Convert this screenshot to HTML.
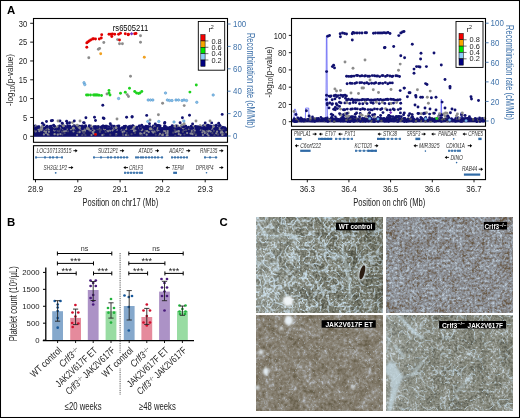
<!DOCTYPE html>
<html><head><meta charset="utf-8"><style>
html,body{margin:0;padding:0;background:#fff;}
svg{display:block;will-change:transform;}
text{font-family:"Liberation Sans",sans-serif;}
</style></head><body>
<svg width="520" height="418" viewBox="0 0 520 418" font-family="Liberation Sans">
<rect width="520" height="418" fill="#fff"/>
<g>
<rect x="34.00" y="127.50" width="193.00" height="9.30" fill="#12126a"/>
<circle cx="97.0" cy="128.7" r="1.1" fill="#44446e"/>
<circle cx="48.9" cy="131.8" r="1.1" fill="#8a8a92"/>
<circle cx="46.1" cy="131.6" r="1.1" fill="#8a8a92"/>
<circle cx="118.0" cy="128.1" r="1.1" fill="#8a8a92"/>
<circle cx="116.3" cy="134.1" r="1.1" fill="#8a8a92"/>
<circle cx="77.8" cy="132.5" r="1.1" fill="#44446e"/>
<circle cx="145.5" cy="130.7" r="1.1" fill="#44446e"/>
<circle cx="43.9" cy="134.4" r="1.1" fill="#8a8a92"/>
<circle cx="62.6" cy="128.4" r="1.1" fill="#8a8a92"/>
<circle cx="191.3" cy="128.9" r="1.1" fill="#44446e"/>
<circle cx="157.4" cy="130.5" r="1.1" fill="#8a8a92"/>
<circle cx="47.0" cy="128.0" r="1.1" fill="#8a8a92"/>
<circle cx="165.3" cy="130.9" r="1.1" fill="#8a8a92"/>
<circle cx="147.1" cy="131.1" r="1.1" fill="#8a8a92"/>
<circle cx="187.1" cy="133.1" r="1.1" fill="#8a8a92"/>
<circle cx="145.0" cy="131.7" r="1.1" fill="#44446e"/>
<circle cx="174.7" cy="129.8" r="1.1" fill="#44446e"/>
<circle cx="57.6" cy="130.8" r="1.1" fill="#44446e"/>
<circle cx="64.1" cy="131.4" r="1.1" fill="#8a8a92"/>
<circle cx="163.0" cy="133.6" r="1.1" fill="#44446e"/>
<circle cx="202.7" cy="130.0" r="1.1" fill="#44446e"/>
<circle cx="148.8" cy="132.1" r="1.1" fill="#8a8a92"/>
<circle cx="195.9" cy="135.1" r="1.1" fill="#8a8a92"/>
<circle cx="162.2" cy="128.0" r="1.1" fill="#44446e"/>
<circle cx="158.9" cy="135.4" r="1.1" fill="#44446e"/>
<circle cx="89.5" cy="130.6" r="1.1" fill="#44446e"/>
<circle cx="39.3" cy="131.2" r="1.1" fill="#8a8a92"/>
<circle cx="57.4" cy="128.0" r="1.1" fill="#44446e"/>
<circle cx="59.8" cy="129.5" r="1.1" fill="#8a8a92"/>
<circle cx="201.9" cy="128.1" r="1.1" fill="#8a8a92"/>
<circle cx="140.2" cy="134.6" r="1.1" fill="#44446e"/>
<circle cx="200.5" cy="129.7" r="1.1" fill="#8a8a92"/>
<circle cx="103.7" cy="134.6" r="1.1" fill="#44446e"/>
<circle cx="63.9" cy="128.9" r="1.1" fill="#8a8a92"/>
<circle cx="79.7" cy="131.4" r="1.1" fill="#44446e"/>
<circle cx="85.3" cy="127.5" r="1.1" fill="#8a8a92"/>
<circle cx="105.7" cy="132.0" r="1.1" fill="#44446e"/>
<circle cx="167.2" cy="131.6" r="1.1" fill="#44446e"/>
<circle cx="164.5" cy="127.9" r="1.1" fill="#44446e"/>
<circle cx="184.4" cy="134.5" r="1.1" fill="#44446e"/>
<circle cx="110.1" cy="130.7" r="1.1" fill="#8a8a92"/>
<circle cx="156.5" cy="128.0" r="1.1" fill="#8a8a92"/>
<circle cx="75.0" cy="128.8" r="1.1" fill="#8a8a92"/>
<circle cx="45.1" cy="127.5" r="1.1" fill="#8a8a92"/>
<circle cx="54.4" cy="130.4" r="1.1" fill="#8a8a92"/>
<circle cx="202.4" cy="132.4" r="1.1" fill="#8a8a92"/>
<circle cx="83.3" cy="130.3" r="1.1" fill="#8a8a92"/>
<circle cx="58.5" cy="134.3" r="1.1" fill="#44446e"/>
<circle cx="124.2" cy="131.4" r="1.1" fill="#8a8a92"/>
<circle cx="54.6" cy="130.2" r="1.1" fill="#8a8a92"/>
<circle cx="193.7" cy="128.8" r="1.1" fill="#8a8a92"/>
<circle cx="217.1" cy="131.7" r="1.1" fill="#8a8a92"/>
<circle cx="139.0" cy="127.7" r="1.1" fill="#8a8a92"/>
<circle cx="222.4" cy="134.4" r="1.1" fill="#44446e"/>
<circle cx="85.0" cy="130.4" r="1.1" fill="#8a8a92"/>
<circle cx="182.8" cy="131.8" r="1.1" fill="#44446e"/>
<circle cx="98.1" cy="129.3" r="1.1" fill="#44446e"/>
<circle cx="223.6" cy="134.3" r="1.1" fill="#44446e"/>
<circle cx="191.7" cy="133.4" r="1.1" fill="#8a8a92"/>
<circle cx="134.1" cy="130.3" r="1.1" fill="#8a8a92"/>
<circle cx="40.3" cy="129.7" r="1.1" fill="#8a8a92"/>
<circle cx="167.6" cy="135.2" r="1.1" fill="#8a8a92"/>
<circle cx="214.4" cy="135.4" r="1.1" fill="#44446e"/>
<circle cx="104.8" cy="129.3" r="1.1" fill="#8a8a92"/>
<circle cx="72.7" cy="129.1" r="1.1" fill="#44446e"/>
<circle cx="207.4" cy="134.2" r="1.1" fill="#8a8a92"/>
<circle cx="160.0" cy="133.9" r="1.1" fill="#8a8a92"/>
<circle cx="161.5" cy="134.8" r="1.1" fill="#44446e"/>
<circle cx="178.7" cy="131.3" r="1.1" fill="#8a8a92"/>
<circle cx="186.1" cy="130.2" r="1.1" fill="#44446e"/>
<circle cx="221.1" cy="130.7" r="1.1" fill="#8a8a92"/>
<circle cx="216.3" cy="133.3" r="1.1" fill="#8a8a92"/>
<circle cx="59.3" cy="128.7" r="1.1" fill="#44446e"/>
<circle cx="189.4" cy="128.7" r="1.1" fill="#44446e"/>
<circle cx="222.7" cy="132.8" r="1.1" fill="#8a8a92"/>
<circle cx="140.1" cy="128.5" r="1.1" fill="#8a8a92"/>
<circle cx="220.9" cy="132.7" r="1.1" fill="#8a8a92"/>
<circle cx="213.8" cy="131.0" r="1.1" fill="#44446e"/>
<circle cx="193.2" cy="129.2" r="1.1" fill="#8a8a92"/>
<circle cx="91.1" cy="129.4" r="1.1" fill="#44446e"/>
<circle cx="84.7" cy="130.9" r="1.1" fill="#8a8a92"/>
<circle cx="209.3" cy="130.3" r="1.1" fill="#8a8a92"/>
<circle cx="146.7" cy="134.7" r="1.1" fill="#8a8a92"/>
<circle cx="210.7" cy="131.5" r="1.1" fill="#8a8a92"/>
<circle cx="135.3" cy="127.6" r="1.1" fill="#8a8a92"/>
<circle cx="70.1" cy="127.5" r="1.1" fill="#44446e"/>
<circle cx="68.0" cy="131.3" r="1.1" fill="#44446e"/>
<circle cx="141.6" cy="130.1" r="1.1" fill="#8a8a92"/>
<circle cx="141.4" cy="133.8" r="1.1" fill="#8a8a92"/>
<circle cx="142.3" cy="129.5" r="1.1" fill="#8a8a92"/>
<circle cx="182.9" cy="131.6" r="1.1" fill="#44446e"/>
<circle cx="180.5" cy="134.8" r="1.1" fill="#8a8a92"/>
<circle cx="152.3" cy="131.5" r="1.1" fill="#8a8a92"/>
<circle cx="167.7" cy="131.1" r="1.1" fill="#8a8a92"/>
<circle cx="126.5" cy="135.0" r="1.1" fill="#44446e"/>
<circle cx="202.9" cy="135.0" r="1.1" fill="#8a8a92"/>
<circle cx="142.1" cy="135.0" r="1.1" fill="#44446e"/>
<circle cx="61.3" cy="128.5" r="1.1" fill="#8a8a92"/>
<circle cx="48.9" cy="129.4" r="1.1" fill="#8a8a92"/>
<circle cx="163.2" cy="133.8" r="1.1" fill="#44446e"/>
<circle cx="64.6" cy="133.2" r="1.1" fill="#44446e"/>
<circle cx="62.4" cy="134.6" r="1.1" fill="#44446e"/>
<circle cx="77.1" cy="135.1" r="1.1" fill="#8a8a92"/>
<circle cx="128.3" cy="135.4" r="1.1" fill="#44446e"/>
<circle cx="65.9" cy="131.0" r="1.1" fill="#8a8a92"/>
<circle cx="99.9" cy="129.1" r="1.1" fill="#8a8a92"/>
<circle cx="173.3" cy="127.7" r="1.1" fill="#44446e"/>
<circle cx="119.3" cy="127.6" r="1.1" fill="#8a8a92"/>
<circle cx="154.5" cy="131.6" r="1.1" fill="#8a8a92"/>
<circle cx="223.6" cy="133.8" r="1.1" fill="#44446e"/>
<circle cx="55.1" cy="129.6" r="1.1" fill="#8a8a92"/>
<circle cx="184.2" cy="129.7" r="1.1" fill="#8a8a92"/>
<circle cx="115.9" cy="134.8" r="1.1" fill="#44446e"/>
<circle cx="84.5" cy="128.7" r="1.1" fill="#44446e"/>
<circle cx="144.3" cy="133.1" r="1.1" fill="#8a8a92"/>
<circle cx="46.0" cy="133.0" r="1.1" fill="#8a8a92"/>
<circle cx="48.9" cy="135.0" r="1.1" fill="#44446e"/>
<circle cx="188.5" cy="128.2" r="1.1" fill="#44446e"/>
<circle cx="47.8" cy="134.4" r="1.1" fill="#8a8a92"/>
<circle cx="99.9" cy="131.9" r="1.1" fill="#44446e"/>
<circle cx="86.3" cy="128.5" r="1.1" fill="#8a8a92"/>
<circle cx="80.7" cy="128.4" r="1.1" fill="#8a8a92"/>
<circle cx="44.6" cy="129.1" r="1.1" fill="#8a8a92"/>
<circle cx="93.4" cy="133.6" r="1.1" fill="#8a8a92"/>
<circle cx="130.8" cy="128.9" r="1.1" fill="#8a8a92"/>
<circle cx="38.5" cy="129.5" r="1.1" fill="#8a8a92"/>
<circle cx="175.4" cy="131.9" r="1.1" fill="#8a8a92"/>
<circle cx="125.9" cy="135.0" r="1.1" fill="#8a8a92"/>
<circle cx="191.8" cy="131.0" r="1.1" fill="#8a8a92"/>
<circle cx="194.8" cy="130.6" r="1.1" fill="#8a8a92"/>
<circle cx="166.7" cy="135.4" r="1.1" fill="#8a8a92"/>
<circle cx="194.4" cy="133.2" r="1.1" fill="#44446e"/>
<circle cx="112.5" cy="130.3" r="1.1" fill="#8a8a92"/>
<circle cx="59.9" cy="128.1" r="1.1" fill="#44446e"/>
<circle cx="83.9" cy="128.8" r="1.1" fill="#8a8a92"/>
<circle cx="196.1" cy="134.5" r="1.1" fill="#44446e"/>
<circle cx="89.0" cy="129.4" r="1.1" fill="#8a8a92"/>
<circle cx="123.0" cy="128.8" r="1.1" fill="#8a8a92"/>
<circle cx="85.4" cy="135.2" r="1.1" fill="#44446e"/>
<circle cx="139.8" cy="129.5" r="1.1" fill="#44446e"/>
<circle cx="94.3" cy="130.4" r="1.1" fill="#8a8a92"/>
<circle cx="108.1" cy="131.3" r="1.1" fill="#8a8a92"/>
<circle cx="73.5" cy="131.5" r="1.1" fill="#8a8a92"/>
<circle cx="85.6" cy="128.2" r="1.1" fill="#8a8a92"/>
<circle cx="43.0" cy="127.7" r="1.1" fill="#8a8a92"/>
<circle cx="79.6" cy="132.2" r="1.1" fill="#8a8a92"/>
<circle cx="178.7" cy="132.8" r="1.1" fill="#44446e"/>
<circle cx="203.3" cy="130.6" r="1.1" fill="#8a8a92"/>
<circle cx="223.6" cy="128.7" r="1.1" fill="#44446e"/>
<circle cx="158.2" cy="127.9" r="1.1" fill="#44446e"/>
<circle cx="205.8" cy="132.5" r="1.1" fill="#44446e"/>
<circle cx="190.5" cy="128.6" r="1.1" fill="#8a8a92"/>
<circle cx="131.6" cy="134.2" r="1.1" fill="#44446e"/>
<circle cx="193.3" cy="132.2" r="1.1" fill="#44446e"/>
<circle cx="165.8" cy="133.0" r="1.1" fill="#8a8a92"/>
<circle cx="41.0" cy="128.6" r="1.1" fill="#8a8a92"/>
<circle cx="55.1" cy="134.2" r="1.1" fill="#44446e"/>
<circle cx="155.2" cy="132.5" r="1.1" fill="#44446e"/>
<circle cx="128.7" cy="127.5" r="1.1" fill="#44446e"/>
<circle cx="178.3" cy="131.5" r="1.1" fill="#8a8a92"/>
<circle cx="161.3" cy="128.0" r="1.1" fill="#44446e"/>
<circle cx="83.3" cy="128.1" r="1.1" fill="#8a8a92"/>
<circle cx="174.7" cy="129.1" r="1.1" fill="#44446e"/>
<circle cx="221.9" cy="131.5" r="1.1" fill="#8a8a92"/>
<circle cx="126.7" cy="133.0" r="1.1" fill="#44446e"/>
<circle cx="153.2" cy="132.6" r="1.1" fill="#8a8a92"/>
<circle cx="63.2" cy="129.5" r="1.1" fill="#44446e"/>
<circle cx="93.3" cy="132.0" r="1.1" fill="#8a8a92"/>
<circle cx="46.6" cy="129.7" r="1.1" fill="#44446e"/>
<circle cx="167.6" cy="132.9" r="1.1" fill="#8a8a92"/>
<circle cx="133.9" cy="131.2" r="1.1" fill="#8a8a92"/>
<circle cx="57.7" cy="134.6" r="1.1" fill="#8a8a92"/>
<circle cx="222.3" cy="135.0" r="1.1" fill="#8a8a92"/>
<circle cx="122.9" cy="134.1" r="1.1" fill="#44446e"/>
<circle cx="121.1" cy="129.6" r="1.1" fill="#8a8a92"/>
<circle cx="216.1" cy="129.2" r="1.1" fill="#44446e"/>
<circle cx="62.1" cy="131.7" r="1.1" fill="#44446e"/>
<circle cx="60.4" cy="134.1" r="1.1" fill="#8a8a92"/>
<circle cx="204.8" cy="133.1" r="1.1" fill="#8a8a92"/>
<circle cx="206.9" cy="131.4" r="1.1" fill="#8a8a92"/>
<circle cx="35.7" cy="131.4" r="1.1" fill="#8a8a92"/>
<circle cx="92.8" cy="128.6" r="1.1" fill="#8a8a92"/>
<circle cx="95.5" cy="134.2" r="1.1" fill="#8a8a92"/>
<circle cx="178.8" cy="134.2" r="1.1" fill="#8a8a92"/>
<circle cx="212.4" cy="133.2" r="1.1" fill="#44446e"/>
<circle cx="90.5" cy="130.5" r="1.1" fill="#8a8a92"/>
<circle cx="226.3" cy="132.2" r="1.1" fill="#8a8a92"/>
<circle cx="117.0" cy="129.7" r="1.1" fill="#8a8a92"/>
<circle cx="54.5" cy="134.2" r="1.1" fill="#8a8a92"/>
<circle cx="214.2" cy="129.5" r="1.1" fill="#8a8a92"/>
<circle cx="132.8" cy="129.0" r="1.1" fill="#8a8a92"/>
<circle cx="218.1" cy="134.6" r="1.1" fill="#44446e"/>
<circle cx="155.8" cy="134.8" r="1.1" fill="#44446e"/>
<circle cx="140.2" cy="133.3" r="1.1" fill="#8a8a92"/>
<circle cx="175.2" cy="131.1" r="1.1" fill="#44446e"/>
<circle cx="158.4" cy="129.8" r="1.1" fill="#8a8a92"/>
<circle cx="212.5" cy="128.5" r="1.1" fill="#8a8a92"/>
<circle cx="100.8" cy="129.9" r="1.1" fill="#44446e"/>
<circle cx="222.0" cy="129.6" r="1.1" fill="#44446e"/>
<circle cx="92.6" cy="132.0" r="1.1" fill="#8a8a92"/>
<circle cx="67.0" cy="128.8" r="1.1" fill="#8a8a92"/>
<circle cx="208.5" cy="131.5" r="1.1" fill="#8a8a92"/>
<circle cx="208.5" cy="135.5" r="1.1" fill="#8a8a92"/>
<circle cx="61.7" cy="129.0" r="1.1" fill="#8a8a92"/>
<circle cx="100.5" cy="128.2" r="1.1" fill="#8a8a92"/>
<circle cx="84.5" cy="132.1" r="1.1" fill="#44446e"/>
<circle cx="178.6" cy="130.8" r="1.1" fill="#8a8a92"/>
<circle cx="135.4" cy="130.5" r="1.1" fill="#8a8a92"/>
<circle cx="46.9" cy="129.7" r="1.1" fill="#44446e"/>
<circle cx="59.1" cy="131.5" r="1.1" fill="#44446e"/>
<circle cx="200.2" cy="129.2" r="1.1" fill="#8a8a92"/>
<circle cx="82.6" cy="130.7" r="1.1" fill="#8a8a92"/>
<circle cx="217.7" cy="134.3" r="1.1" fill="#44446e"/>
<circle cx="39.2" cy="127.8" r="1.1" fill="#44446e"/>
<circle cx="206.5" cy="131.3" r="1.1" fill="#44446e"/>
<circle cx="35.0" cy="130.6" r="1.1" fill="#44446e"/>
<circle cx="193.1" cy="134.3" r="1.1" fill="#44446e"/>
<circle cx="82.6" cy="128.4" r="1.1" fill="#8a8a92"/>
<circle cx="135.0" cy="133.0" r="1.1" fill="#44446e"/>
<circle cx="173.2" cy="132.7" r="1.1" fill="#44446e"/>
<circle cx="122.6" cy="131.9" r="1.1" fill="#8a8a92"/>
<circle cx="184.8" cy="129.4" r="1.1" fill="#44446e"/>
<circle cx="158.6" cy="129.9" r="1.1" fill="#8a8a92"/>
<circle cx="83.2" cy="132.6" r="1.1" fill="#44446e"/>
<circle cx="56.5" cy="128.1" r="1.1" fill="#8a8a92"/>
<circle cx="146.6" cy="130.6" r="1.1" fill="#8a8a92"/>
<circle cx="150.1" cy="127.6" r="1.1" fill="#8a8a92"/>
<circle cx="123.2" cy="135.2" r="1.1" fill="#44446e"/>
<circle cx="204.2" cy="131.3" r="1.1" fill="#8a8a92"/>
<circle cx="82.3" cy="135.2" r="1.1" fill="#44446e"/>
<circle cx="93.9" cy="127.7" r="1.1" fill="#8a8a92"/>
<circle cx="164.2" cy="130.9" r="1.1" fill="#8a8a92"/>
<circle cx="162.8" cy="134.9" r="1.1" fill="#8a8a92"/>
<circle cx="41.5" cy="130.2" r="1.1" fill="#8a8a92"/>
<circle cx="165.7" cy="129.1" r="1.1" fill="#44446e"/>
<circle cx="176.5" cy="131.5" r="1.1" fill="#8a8a92"/>
<circle cx="220.7" cy="130.0" r="1.1" fill="#44446e"/>
<circle cx="79.2" cy="129.3" r="1.1" fill="#44446e"/>
<circle cx="91.5" cy="135.1" r="1.1" fill="#8a8a92"/>
<circle cx="70.9" cy="129.3" r="1.1" fill="#8a8a92"/>
<circle cx="162.4" cy="135.1" r="1.1" fill="#8a8a92"/>
<circle cx="110.3" cy="129.2" r="1.1" fill="#44446e"/>
<circle cx="62.2" cy="127.9" r="1.1" fill="#8a8a92"/>
<circle cx="110.3" cy="134.7" r="1.1" fill="#44446e"/>
<circle cx="175.3" cy="135.5" r="1.1" fill="#44446e"/>
<circle cx="98.0" cy="129.0" r="1.1" fill="#44446e"/>
<circle cx="177.9" cy="127.8" r="1.1" fill="#44446e"/>
<circle cx="107.5" cy="130.5" r="1.1" fill="#8a8a92"/>
<circle cx="67.4" cy="127.5" r="1.1" fill="#8a8a92"/>
<circle cx="102.3" cy="135.1" r="1.1" fill="#8a8a92"/>
<circle cx="219.7" cy="129.2" r="1.1" fill="#8a8a92"/>
<circle cx="192.3" cy="134.1" r="1.1" fill="#8a8a92"/>
<circle cx="44.4" cy="131.3" r="1.1" fill="#8a8a92"/>
<circle cx="211.1" cy="129.0" r="1.1" fill="#8a8a92"/>
<circle cx="206.8" cy="127.7" r="1.1" fill="#8a8a92"/>
<circle cx="190.5" cy="133.6" r="1.1" fill="#8a8a92"/>
<circle cx="41.7" cy="128.0" r="1.1" fill="#44446e"/>
<circle cx="84.2" cy="133.5" r="1.1" fill="#44446e"/>
<circle cx="99.9" cy="129.7" r="1.1" fill="#44446e"/>
<circle cx="153.2" cy="129.6" r="1.1" fill="#44446e"/>
<circle cx="95.6" cy="126.7" r="1.45" fill="#111170"/>
<circle cx="179.7" cy="128.7" r="1.45" fill="#111170"/>
<circle cx="215.6" cy="125.9" r="1.45" fill="#111170"/>
<circle cx="126.0" cy="128.9" r="1.45" fill="#8c8c8c"/>
<circle cx="109.0" cy="126.6" r="1.45" fill="#111170"/>
<circle cx="129.5" cy="128.8" r="1.45" fill="#111170"/>
<circle cx="188.7" cy="128.2" r="1.45" fill="#8c8c8c"/>
<circle cx="183.0" cy="127.7" r="1.45" fill="#111170"/>
<circle cx="96.2" cy="127.0" r="1.45" fill="#111170"/>
<circle cx="50.1" cy="126.4" r="1.45" fill="#111170"/>
<circle cx="82.4" cy="126.0" r="1.45" fill="#111170"/>
<circle cx="140.8" cy="126.8" r="1.45" fill="#8c8c8c"/>
<circle cx="204.2" cy="129.0" r="1.45" fill="#111170"/>
<circle cx="51.1" cy="126.1" r="1.45" fill="#111170"/>
<circle cx="170.9" cy="127.2" r="1.45" fill="#111170"/>
<circle cx="114.8" cy="127.8" r="1.45" fill="#111170"/>
<circle cx="178.2" cy="128.5" r="1.45" fill="#111170"/>
<circle cx="58.2" cy="128.5" r="1.45" fill="#111170"/>
<circle cx="143.6" cy="127.0" r="1.45" fill="#111170"/>
<circle cx="73.1" cy="126.6" r="1.45" fill="#111170"/>
<circle cx="64.4" cy="128.6" r="1.45" fill="#111170"/>
<circle cx="97.5" cy="127.1" r="1.45" fill="#8c8c8c"/>
<circle cx="132.2" cy="126.5" r="1.45" fill="#8c8c8c"/>
<circle cx="160.1" cy="129.0" r="1.45" fill="#111170"/>
<circle cx="125.9" cy="128.4" r="1.45" fill="#8c8c8c"/>
<circle cx="210.1" cy="125.9" r="1.45" fill="#111170"/>
<circle cx="57.8" cy="126.4" r="1.45" fill="#8c8c8c"/>
<circle cx="146.7" cy="128.8" r="1.45" fill="#111170"/>
<circle cx="200.9" cy="127.2" r="1.45" fill="#111170"/>
<circle cx="183.9" cy="128.8" r="1.45" fill="#111170"/>
<circle cx="149.2" cy="127.8" r="1.45" fill="#111170"/>
<circle cx="105.6" cy="126.3" r="1.45" fill="#111170"/>
<circle cx="83.8" cy="127.7" r="1.45" fill="#111170"/>
<circle cx="74.0" cy="125.8" r="1.45" fill="#111170"/>
<circle cx="164.9" cy="126.4" r="1.45" fill="#111170"/>
<circle cx="74.0" cy="128.3" r="1.45" fill="#111170"/>
<circle cx="47.1" cy="126.1" r="1.45" fill="#111170"/>
<circle cx="140.4" cy="127.8" r="1.45" fill="#111170"/>
<circle cx="66.3" cy="128.0" r="1.45" fill="#111170"/>
<circle cx="89.3" cy="126.8" r="1.45" fill="#8c8c8c"/>
<circle cx="94.8" cy="127.6" r="1.45" fill="#111170"/>
<circle cx="114.7" cy="128.6" r="1.45" fill="#8c8c8c"/>
<circle cx="104.7" cy="126.4" r="1.45" fill="#111170"/>
<circle cx="74.0" cy="125.8" r="1.45" fill="#8c8c8c"/>
<circle cx="116.1" cy="128.4" r="1.45" fill="#111170"/>
<circle cx="204.1" cy="127.3" r="1.45" fill="#111170"/>
<circle cx="37.8" cy="127.6" r="1.45" fill="#111170"/>
<circle cx="209.2" cy="126.1" r="1.45" fill="#111170"/>
<circle cx="106.0" cy="127.4" r="1.45" fill="#111170"/>
<circle cx="89.3" cy="127.5" r="1.45" fill="#8c8c8c"/>
<circle cx="55.8" cy="127.4" r="1.45" fill="#8c8c8c"/>
<circle cx="220.2" cy="126.4" r="1.45" fill="#111170"/>
<circle cx="215.6" cy="128.9" r="1.45" fill="#111170"/>
<circle cx="45.2" cy="128.8" r="1.45" fill="#111170"/>
<circle cx="208.2" cy="127.8" r="1.45" fill="#8c8c8c"/>
<circle cx="65.7" cy="128.3" r="1.45" fill="#111170"/>
<circle cx="112.5" cy="128.5" r="1.45" fill="#8c8c8c"/>
<circle cx="70.0" cy="126.5" r="1.45" fill="#111170"/>
<circle cx="134.2" cy="127.0" r="1.45" fill="#111170"/>
<circle cx="82.3" cy="128.1" r="1.45" fill="#8c8c8c"/>
<circle cx="42.9" cy="127.6" r="1.45" fill="#111170"/>
<circle cx="42.3" cy="128.5" r="1.45" fill="#111170"/>
<circle cx="149.8" cy="127.6" r="1.45" fill="#111170"/>
<circle cx="93.6" cy="127.1" r="1.45" fill="#111170"/>
<circle cx="116.5" cy="127.9" r="1.45" fill="#111170"/>
<circle cx="118.9" cy="125.9" r="1.45" fill="#111170"/>
<circle cx="128.7" cy="126.6" r="1.45" fill="#111170"/>
<circle cx="184.4" cy="127.3" r="1.45" fill="#111170"/>
<circle cx="125.6" cy="126.1" r="1.45" fill="#111170"/>
<circle cx="117.5" cy="126.1" r="1.45" fill="#111170"/>
<circle cx="132.7" cy="125.9" r="1.45" fill="#111170"/>
<circle cx="50.7" cy="128.1" r="1.45" fill="#111170"/>
<circle cx="132.9" cy="126.0" r="1.45" fill="#111170"/>
<circle cx="107.4" cy="128.8" r="1.45" fill="#111170"/>
<circle cx="199.1" cy="129.0" r="1.45" fill="#111170"/>
<circle cx="191.1" cy="126.4" r="1.45" fill="#8c8c8c"/>
<circle cx="129.2" cy="128.9" r="1.45" fill="#8c8c8c"/>
<circle cx="66.6" cy="128.3" r="1.45" fill="#8c8c8c"/>
<circle cx="47.5" cy="126.9" r="1.45" fill="#111170"/>
<circle cx="65.4" cy="128.7" r="1.45" fill="#111170"/>
<circle cx="191.2" cy="126.3" r="1.45" fill="#111170"/>
<circle cx="211.2" cy="126.5" r="1.45" fill="#111170"/>
<circle cx="131.9" cy="126.8" r="1.45" fill="#111170"/>
<circle cx="69.9" cy="126.3" r="1.45" fill="#8c8c8c"/>
<circle cx="165.2" cy="128.7" r="1.45" fill="#111170"/>
<circle cx="185.3" cy="126.2" r="1.45" fill="#111170"/>
<circle cx="156.9" cy="127.0" r="1.45" fill="#8c8c8c"/>
<circle cx="141.3" cy="127.7" r="1.45" fill="#8c8c8c"/>
<circle cx="55.0" cy="129.0" r="1.45" fill="#111170"/>
<circle cx="110.5" cy="128.4" r="1.45" fill="#111170"/>
<circle cx="224.7" cy="127.6" r="1.45" fill="#111170"/>
<circle cx="181.4" cy="127.2" r="1.45" fill="#111170"/>
<circle cx="177.4" cy="126.0" r="1.45" fill="#8c8c8c"/>
<circle cx="83.6" cy="127.8" r="1.45" fill="#8c8c8c"/>
<circle cx="147.2" cy="127.9" r="1.45" fill="#111170"/>
<circle cx="35.3" cy="125.9" r="1.45" fill="#111170"/>
<circle cx="153.0" cy="127.2" r="1.45" fill="#111170"/>
<circle cx="206.5" cy="126.2" r="1.45" fill="#111170"/>
<circle cx="160.1" cy="125.9" r="1.45" fill="#111170"/>
<circle cx="103.0" cy="126.1" r="1.45" fill="#111170"/>
<circle cx="77.9" cy="127.7" r="1.45" fill="#111170"/>
<circle cx="74.1" cy="127.8" r="1.45" fill="#111170"/>
<circle cx="60.8" cy="128.8" r="1.45" fill="#111170"/>
<circle cx="63.6" cy="126.1" r="1.45" fill="#111170"/>
<circle cx="201.9" cy="128.3" r="1.45" fill="#111170"/>
<circle cx="85.6" cy="125.8" r="1.45" fill="#111170"/>
<circle cx="142.7" cy="126.9" r="1.45" fill="#111170"/>
<circle cx="120.0" cy="128.8" r="1.45" fill="#111170"/>
<circle cx="82.6" cy="128.7" r="1.45" fill="#111170"/>
<circle cx="136.8" cy="127.1" r="1.45" fill="#111170"/>
<circle cx="46.2" cy="128.3" r="1.45" fill="#111170"/>
<circle cx="140.5" cy="128.8" r="1.45" fill="#111170"/>
<circle cx="73.2" cy="127.7" r="1.45" fill="#111170"/>
<circle cx="157.9" cy="128.4" r="1.45" fill="#111170"/>
<circle cx="94.2" cy="126.8" r="1.45" fill="#111170"/>
<circle cx="205.3" cy="128.3" r="1.45" fill="#111170"/>
<circle cx="36.2" cy="128.5" r="1.45" fill="#111170"/>
<circle cx="124.1" cy="128.2" r="1.45" fill="#111170"/>
<circle cx="78.3" cy="126.1" r="1.45" fill="#111170"/>
<circle cx="42.4" cy="126.9" r="1.45" fill="#111170"/>
<circle cx="168.1" cy="128.5" r="1.45" fill="#111170"/>
<circle cx="85.9" cy="127.6" r="1.45" fill="#111170"/>
<circle cx="186.0" cy="127.5" r="1.45" fill="#111170"/>
<circle cx="157.9" cy="128.9" r="1.45" fill="#111170"/>
<circle cx="203.5" cy="125.8" r="1.45" fill="#111170"/>
<circle cx="80.2" cy="128.2" r="1.45" fill="#8c8c8c"/>
<circle cx="177.9" cy="126.8" r="1.45" fill="#8c8c8c"/>
<circle cx="97.9" cy="126.6" r="1.45" fill="#8c8c8c"/>
<circle cx="155.8" cy="128.0" r="1.45" fill="#111170"/>
<circle cx="222.5" cy="127.3" r="1.45" fill="#8c8c8c"/>
<circle cx="168.6" cy="128.5" r="1.45" fill="#111170"/>
<circle cx="173.8" cy="127.6" r="1.45" fill="#111170"/>
<circle cx="75.6" cy="127.8" r="1.45" fill="#111170"/>
<circle cx="209.4" cy="126.3" r="1.45" fill="#111170"/>
<circle cx="55.4" cy="128.8" r="1.45" fill="#111170"/>
<circle cx="62.2" cy="125.9" r="1.45" fill="#111170"/>
<circle cx="167.6" cy="127.8" r="1.45" fill="#111170"/>
<circle cx="176.1" cy="126.0" r="1.45" fill="#111170"/>
<circle cx="104.6" cy="128.4" r="1.45" fill="#8c8c8c"/>
<circle cx="205.7" cy="126.0" r="1.45" fill="#8c8c8c"/>
<circle cx="210.1" cy="128.8" r="1.45" fill="#111170"/>
<circle cx="74.4" cy="126.2" r="1.45" fill="#111170"/>
<circle cx="197.3" cy="128.4" r="1.45" fill="#111170"/>
<circle cx="193.0" cy="127.8" r="1.45" fill="#111170"/>
<circle cx="54.1" cy="126.1" r="1.45" fill="#111170"/>
<circle cx="74.3" cy="126.8" r="1.45" fill="#111170"/>
<circle cx="39.0" cy="126.6" r="1.45" fill="#111170"/>
<circle cx="172.1" cy="127.0" r="1.45" fill="#111170"/>
<circle cx="219.6" cy="127.4" r="1.45" fill="#8c8c8c"/>
<circle cx="153.4" cy="125.9" r="1.45" fill="#111170"/>
<circle cx="118.6" cy="128.3" r="1.45" fill="#111170"/>
<circle cx="169.9" cy="127.5" r="1.45" fill="#111170"/>
<circle cx="200.1" cy="126.1" r="1.45" fill="#8c8c8c"/>
<circle cx="67.6" cy="125.8" r="1.45" fill="#111170"/>
<circle cx="181.0" cy="128.9" r="1.45" fill="#111170"/>
<circle cx="129.0" cy="127.4" r="1.45" fill="#111170"/>
<circle cx="70.3" cy="127.4" r="1.45" fill="#111170"/>
<circle cx="194.3" cy="126.6" r="1.45" fill="#8c8c8c"/>
<circle cx="89.3" cy="126.5" r="1.45" fill="#111170"/>
<circle cx="130.4" cy="126.2" r="1.45" fill="#111170"/>
<circle cx="50.5" cy="128.3" r="1.45" fill="#111170"/>
<circle cx="185.7" cy="127.8" r="1.45" fill="#111170"/>
<circle cx="111.8" cy="127.1" r="1.45" fill="#8c8c8c"/>
<circle cx="51.5" cy="128.6" r="1.45" fill="#111170"/>
<circle cx="74.5" cy="126.6" r="1.45" fill="#8c8c8c"/>
<circle cx="131.0" cy="127.0" r="1.45" fill="#8c8c8c"/>
<circle cx="79.7" cy="127.3" r="1.45" fill="#111170"/>
<circle cx="179.5" cy="128.2" r="1.45" fill="#111170"/>
<circle cx="101.7" cy="126.8" r="1.45" fill="#111170"/>
<circle cx="196.5" cy="127.9" r="1.45" fill="#111170"/>
<circle cx="67.5" cy="127.2" r="1.45" fill="#111170"/>
<circle cx="145.9" cy="126.2" r="1.45" fill="#111170"/>
<circle cx="204.5" cy="126.6" r="1.45" fill="#111170"/>
<circle cx="92.7" cy="128.1" r="1.45" fill="#8c8c8c"/>
<circle cx="64.6" cy="126.3" r="1.45" fill="#111170"/>
<circle cx="97.5" cy="127.5" r="1.45" fill="#111170"/>
<circle cx="97.8" cy="126.4" r="1.45" fill="#8c8c8c"/>
<circle cx="174.6" cy="126.1" r="1.45" fill="#8c8c8c"/>
<circle cx="54.5" cy="127.0" r="1.45" fill="#8c8c8c"/>
<circle cx="187.2" cy="128.1" r="1.45" fill="#111170"/>
<circle cx="72.6" cy="127.8" r="1.45" fill="#111170"/>
<circle cx="74.5" cy="127.0" r="1.45" fill="#111170"/>
<circle cx="111.4" cy="128.3" r="1.45" fill="#111170"/>
<circle cx="130.8" cy="127.8" r="1.45" fill="#111170"/>
<circle cx="62.2" cy="127.7" r="1.45" fill="#111170"/>
<circle cx="176.9" cy="128.7" r="1.45" fill="#111170"/>
<circle cx="144.9" cy="128.2" r="1.45" fill="#111170"/>
<circle cx="78.8" cy="128.1" r="1.45" fill="#8c8c8c"/>
<circle cx="183.2" cy="128.0" r="1.45" fill="#8c8c8c"/>
<circle cx="165.1" cy="127.9" r="1.45" fill="#111170"/>
<circle cx="94.9" cy="127.8" r="1.45" fill="#111170"/>
<circle cx="115.3" cy="128.3" r="1.45" fill="#111170"/>
<circle cx="155.6" cy="126.6" r="1.45" fill="#111170"/>
<circle cx="122.2" cy="127.8" r="1.45" fill="#111170"/>
<circle cx="164.3" cy="128.8" r="1.45" fill="#111170"/>
<circle cx="160.3" cy="128.3" r="1.45" fill="#111170"/>
<circle cx="128.8" cy="128.9" r="1.45" fill="#111170"/>
<circle cx="139.1" cy="126.3" r="1.45" fill="#111170"/>
<circle cx="215.1" cy="127.5" r="1.45" fill="#111170"/>
<circle cx="145.0" cy="127.5" r="1.45" fill="#111170"/>
<circle cx="133.1" cy="127.8" r="1.45" fill="#8c8c8c"/>
<circle cx="134.9" cy="127.1" r="1.45" fill="#8c8c8c"/>
<circle cx="75.2" cy="128.0" r="1.45" fill="#111170"/>
<circle cx="181.1" cy="126.2" r="1.45" fill="#8c8c8c"/>
<circle cx="103.1" cy="126.0" r="1.45" fill="#111170"/>
<circle cx="111.5" cy="125.8" r="1.45" fill="#111170"/>
<circle cx="115.5" cy="128.0" r="1.45" fill="#111170"/>
<circle cx="85.8" cy="126.5" r="1.45" fill="#111170"/>
<circle cx="215.0" cy="127.5" r="1.45" fill="#111170"/>
<circle cx="188.5" cy="127.1" r="1.45" fill="#111170"/>
<circle cx="59.8" cy="128.3" r="1.45" fill="#8c8c8c"/>
<circle cx="156.5" cy="127.3" r="1.45" fill="#111170"/>
<circle cx="78.3" cy="128.9" r="1.45" fill="#111170"/>
<circle cx="157.3" cy="128.4" r="1.45" fill="#8c8c8c"/>
<circle cx="124.6" cy="126.7" r="1.45" fill="#111170"/>
<circle cx="59.0" cy="128.5" r="1.45" fill="#111170"/>
<circle cx="197.9" cy="126.7" r="1.45" fill="#111170"/>
<circle cx="83.6" cy="127.2" r="1.45" fill="#111170"/>
<circle cx="35.5" cy="128.1" r="1.45" fill="#111170"/>
<circle cx="81.9" cy="126.8" r="1.45" fill="#111170"/>
<circle cx="117.1" cy="127.8" r="1.45" fill="#111170"/>
<circle cx="104.4" cy="128.8" r="1.45" fill="#8c8c8c"/>
<circle cx="45.9" cy="128.4" r="1.45" fill="#8c8c8c"/>
<circle cx="185.1" cy="126.2" r="1.45" fill="#8c8c8c"/>
<circle cx="156.3" cy="125.8" r="1.45" fill="#111170"/>
<circle cx="217.3" cy="127.9" r="1.45" fill="#111170"/>
<circle cx="54.4" cy="126.3" r="1.45" fill="#111170"/>
<circle cx="183.7" cy="126.9" r="1.45" fill="#111170"/>
<circle cx="208.1" cy="128.3" r="1.45" fill="#111170"/>
<circle cx="205.7" cy="127.7" r="1.45" fill="#111170"/>
<circle cx="163.0" cy="128.7" r="1.45" fill="#111170"/>
<circle cx="195.6" cy="126.4" r="1.45" fill="#111170"/>
<circle cx="136.6" cy="128.2" r="1.45" fill="#111170"/>
<circle cx="204.0" cy="127.6" r="1.45" fill="#111170"/>
<circle cx="79.8" cy="126.2" r="1.45" fill="#111170"/>
<circle cx="46.2" cy="127.3" r="1.45" fill="#111170"/>
<circle cx="129.1" cy="127.4" r="1.45" fill="#111170"/>
<circle cx="200.2" cy="125.8" r="1.45" fill="#8c8c8c"/>
<circle cx="124.6" cy="127.6" r="1.45" fill="#111170"/>
<circle cx="196.0" cy="127.0" r="1.45" fill="#111170"/>
<circle cx="219.0" cy="126.0" r="1.45" fill="#111170"/>
<circle cx="156.8" cy="125.9" r="1.45" fill="#111170"/>
<circle cx="165.7" cy="128.8" r="1.45" fill="#111170"/>
<circle cx="223.0" cy="127.4" r="1.45" fill="#111170"/>
<circle cx="206.9" cy="125.9" r="1.45" fill="#111170"/>
<circle cx="154.7" cy="126.9" r="1.45" fill="#8c8c8c"/>
<circle cx="105.1" cy="127.3" r="1.45" fill="#111170"/>
<circle cx="182.6" cy="126.5" r="1.45" fill="#111170"/>
<circle cx="115.9" cy="127.6" r="1.45" fill="#8c8c8c"/>
<circle cx="91.1" cy="128.4" r="1.45" fill="#111170"/>
<circle cx="131.5" cy="126.7" r="1.45" fill="#111170"/>
<circle cx="221.7" cy="127.9" r="1.45" fill="#111170"/>
<circle cx="98.4" cy="126.8" r="1.45" fill="#111170"/>
<circle cx="147.3" cy="127.8" r="1.45" fill="#111170"/>
<circle cx="42.7" cy="128.1" r="1.45" fill="#8c8c8c"/>
<circle cx="139.4" cy="126.0" r="1.45" fill="#111170"/>
<circle cx="36.2" cy="126.4" r="1.45" fill="#8c8c8c"/>
<circle cx="151.6" cy="127.9" r="1.45" fill="#111170"/>
<circle cx="209.2" cy="127.8" r="1.45" fill="#111170"/>
<circle cx="155.0" cy="128.0" r="1.45" fill="#111170"/>
<circle cx="165.4" cy="126.5" r="1.45" fill="#111170"/>
<circle cx="122.7" cy="128.2" r="1.45" fill="#111170"/>
<circle cx="69.7" cy="125.9" r="1.45" fill="#111170"/>
<circle cx="210.0" cy="127.9" r="1.45" fill="#111170"/>
<circle cx="192.5" cy="128.3" r="1.45" fill="#111170"/>
<circle cx="84.4" cy="126.8" r="1.45" fill="#111170"/>
<circle cx="96.0" cy="127.2" r="1.45" fill="#111170"/>
<circle cx="213.8" cy="126.0" r="1.45" fill="#111170"/>
<circle cx="42.5" cy="126.2" r="1.45" fill="#8c8c8c"/>
<circle cx="145.2" cy="128.7" r="1.45" fill="#111170"/>
<circle cx="37.7" cy="127.0" r="1.45" fill="#111170"/>
<circle cx="214.6" cy="128.9" r="1.45" fill="#111170"/>
<circle cx="114.0" cy="126.1" r="1.45" fill="#111170"/>
<circle cx="75.7" cy="126.3" r="1.45" fill="#111170"/>
<circle cx="35.9" cy="128.0" r="1.45" fill="#111170"/>
<circle cx="220.1" cy="126.1" r="1.45" fill="#8c8c8c"/>
<circle cx="59.7" cy="125.9" r="1.45" fill="#111170"/>
<circle cx="81.4" cy="128.1" r="1.45" fill="#111170"/>
<circle cx="44.6" cy="128.3" r="1.45" fill="#111170"/>
<circle cx="198.8" cy="128.1" r="1.45" fill="#111170"/>
<circle cx="155.4" cy="128.1" r="1.45" fill="#111170"/>
<circle cx="213.5" cy="126.6" r="1.45" fill="#8c8c8c"/>
<circle cx="172.3" cy="125.8" r="1.45" fill="#111170"/>
<circle cx="159.6" cy="128.4" r="1.45" fill="#111170"/>
<circle cx="94.6" cy="128.1" r="1.45" fill="#111170"/>
<circle cx="199.9" cy="127.4" r="1.45" fill="#111170"/>
<circle cx="105.4" cy="127.6" r="1.45" fill="#111170"/>
<circle cx="164.6" cy="126.3" r="1.45" fill="#111170"/>
<circle cx="104.6" cy="127.9" r="1.45" fill="#111170"/>
<circle cx="115.0" cy="127.0" r="1.45" fill="#111170"/>
<circle cx="216.0" cy="128.3" r="1.45" fill="#111170"/>
<circle cx="91.0" cy="126.0" r="1.45" fill="#8c8c8c"/>
<circle cx="169.7" cy="128.4" r="1.45" fill="#111170"/>
<circle cx="151.0" cy="128.9" r="1.45" fill="#8c8c8c"/>
<circle cx="150.1" cy="126.8" r="1.45" fill="#111170"/>
<circle cx="205.1" cy="127.0" r="1.45" fill="#111170"/>
<circle cx="150.2" cy="128.7" r="1.45" fill="#8c8c8c"/>
<circle cx="89.3" cy="125.8" r="1.45" fill="#111170"/>
<circle cx="115.9" cy="127.7" r="1.45" fill="#8c8c8c"/>
<circle cx="204.9" cy="125.9" r="1.45" fill="#8c8c8c"/>
<circle cx="190.5" cy="128.6" r="1.45" fill="#111170"/>
<circle cx="87.4" cy="128.5" r="1.45" fill="#8c8c8c"/>
<circle cx="166.1" cy="128.7" r="1.45" fill="#111170"/>
<circle cx="51.3" cy="127.6" r="1.45" fill="#111170"/>
<circle cx="73.4" cy="128.2" r="1.45" fill="#8c8c8c"/>
<circle cx="79.8" cy="127.7" r="1.45" fill="#111170"/>
<circle cx="124.1" cy="126.5" r="1.45" fill="#111170"/>
<circle cx="178.8" cy="128.3" r="1.45" fill="#111170"/>
<circle cx="51.8" cy="128.4" r="1.45" fill="#111170"/>
<circle cx="79.6" cy="127.7" r="1.45" fill="#8c8c8c"/>
<circle cx="204.5" cy="127.5" r="1.45" fill="#111170"/>
<circle cx="147.9" cy="126.4" r="1.45" fill="#111170"/>
<circle cx="69.6" cy="128.0" r="1.45" fill="#111170"/>
<circle cx="143.1" cy="127.1" r="1.45" fill="#111170"/>
<circle cx="63.5" cy="125.9" r="1.45" fill="#8c8c8c"/>
<circle cx="106.6" cy="126.1" r="1.45" fill="#111170"/>
<circle cx="185.8" cy="126.3" r="1.45" fill="#111170"/>
<circle cx="101.1" cy="127.5" r="1.45" fill="#111170"/>
<circle cx="41.4" cy="129.0" r="1.45" fill="#8c8c8c"/>
<circle cx="128.1" cy="127.6" r="1.45" fill="#111170"/>
<circle cx="184.2" cy="123.8" r="1.45" fill="#8c8c8c"/>
<circle cx="181.9" cy="125.0" r="1.45" fill="#8c8c8c"/>
<circle cx="83.6" cy="122.6" r="1.45" fill="#111170"/>
<circle cx="69.6" cy="122.8" r="1.45" fill="#111170"/>
<circle cx="141.7" cy="125.1" r="1.45" fill="#111170"/>
<circle cx="216.4" cy="125.2" r="1.45" fill="#111170"/>
<circle cx="149.5" cy="123.7" r="1.45" fill="#111170"/>
<circle cx="218.7" cy="123.3" r="1.45" fill="#111170"/>
<circle cx="157.7" cy="125.4" r="1.45" fill="#111170"/>
<circle cx="110.3" cy="123.8" r="1.45" fill="#111170"/>
<circle cx="219.9" cy="125.5" r="1.45" fill="#111170"/>
<circle cx="42.4" cy="123.3" r="1.45" fill="#111170"/>
<circle cx="207.9" cy="125.2" r="1.45" fill="#111170"/>
<circle cx="44.0" cy="124.9" r="1.45" fill="#111170"/>
<circle cx="158.8" cy="125.5" r="1.45" fill="#111170"/>
<circle cx="62.7" cy="124.8" r="1.45" fill="#8c8c8c"/>
<circle cx="164.6" cy="123.4" r="1.45" fill="#111170"/>
<circle cx="180.1" cy="122.8" r="1.45" fill="#111170"/>
<circle cx="84.2" cy="122.9" r="1.45" fill="#111170"/>
<circle cx="67.3" cy="123.2" r="1.45" fill="#111170"/>
<circle cx="164.8" cy="122.5" r="1.45" fill="#111170"/>
<circle cx="72.4" cy="122.6" r="1.45" fill="#8c8c8c"/>
<circle cx="77.2" cy="125.3" r="1.45" fill="#8c8c8c"/>
<circle cx="205.2" cy="122.9" r="1.45" fill="#111170"/>
<circle cx="53.6" cy="125.3" r="1.45" fill="#111170"/>
<circle cx="155.3" cy="123.9" r="1.45" fill="#111170"/>
<circle cx="192.6" cy="123.9" r="1.45" fill="#111170"/>
<circle cx="62.3" cy="123.2" r="1.45" fill="#111170"/>
<circle cx="46.5" cy="121.5" r="1.45" fill="#111170"/>
<circle cx="51.3" cy="120.8" r="1.45" fill="#111170"/>
<circle cx="52.5" cy="120.5" r="1.45" fill="#111170"/>
<circle cx="66.6" cy="121.2" r="1.45" fill="#111170"/>
<circle cx="74.3" cy="121.0" r="1.45" fill="#111170"/>
<circle cx="85.9" cy="117.7" r="1.45" fill="#111170"/>
<circle cx="94.5" cy="117.3" r="1.45" fill="#111170"/>
<circle cx="103.2" cy="118.0" r="1.45" fill="#111170"/>
<circle cx="126.6" cy="117.3" r="1.45" fill="#111170"/>
<circle cx="132.0" cy="117.0" r="1.45" fill="#111170"/>
<circle cx="102.8" cy="105.2" r="1.45" fill="#111170"/>
<circle cx="132.2" cy="116.7" r="1.45" fill="#111170"/>
<circle cx="146.7" cy="115.4" r="1.45" fill="#111170"/>
<circle cx="182.4" cy="117.7" r="1.45" fill="#111170"/>
<circle cx="189.5" cy="115.2" r="1.45" fill="#111170"/>
<circle cx="222.2" cy="114.4" r="1.45" fill="#111170"/>
<circle cx="211.7" cy="122.9" r="1.45" fill="#111170"/>
<circle cx="104.0" cy="118.5" r="1.45" fill="#111170"/>
<circle cx="95.5" cy="120.5" r="1.45" fill="#111170"/>
<circle cx="60.0" cy="121.0" r="1.45" fill="#111170"/>
<circle cx="158.4" cy="114.8" r="1.45" fill="#8c8c8c"/>
<circle cx="162.6" cy="103.3" r="1.45" fill="#8c8c8c"/>
<circle cx="184.2" cy="105.6" r="1.45" fill="#8c8c8c"/>
<circle cx="130.5" cy="76.3" r="1.45" fill="#8c8c8c"/>
<circle cx="107.0" cy="94.0" r="1.45" fill="#8c8c8c"/>
<circle cx="127.2" cy="94.6" r="1.45" fill="#8c8c8c"/>
<circle cx="128.5" cy="96.5" r="1.45" fill="#8c8c8c"/>
<circle cx="103.8" cy="42.5" r="1.45" fill="#8c8c8c"/>
<circle cx="98.4" cy="49.2" r="1.45" fill="#8c8c8c"/>
<circle cx="99.6" cy="48.4" r="1.45" fill="#8c8c8c"/>
<circle cx="88.8" cy="57.7" r="1.45" fill="#8c8c8c"/>
<circle cx="117.6" cy="39.6" r="1.45" fill="#8c8c8c"/>
<circle cx="119.5" cy="43.8" r="1.45" fill="#8c8c8c"/>
<circle cx="122.4" cy="43.8" r="1.45" fill="#8c8c8c"/>
<circle cx="140.5" cy="35.8" r="1.45" fill="#8c8c8c"/>
<circle cx="140.5" cy="42.3" r="1.45" fill="#8c8c8c"/>
<circle cx="117.0" cy="119.0" r="1.45" fill="#8c8c8c"/>
<circle cx="150.0" cy="120.0" r="1.45" fill="#8c8c8c"/>
<circle cx="196.0" cy="121.0" r="1.45" fill="#8c8c8c"/>
<circle cx="210.0" cy="121.0" r="1.45" fill="#8c8c8c"/>
<circle cx="80.0" cy="121.0" r="1.45" fill="#8c8c8c"/>
<circle cx="58.0" cy="121.0" r="1.45" fill="#8c8c8c"/>
<circle cx="84.0" cy="82.7" r="1.25" fill="#86c2ea" stroke="#4f8cc4" stroke-width="0.5"/>
<circle cx="84.8" cy="84.6" r="1.25" fill="#86c2ea" stroke="#4f8cc4" stroke-width="0.5"/>
<circle cx="118.6" cy="98.5" r="1.25" fill="#86c2ea" stroke="#4f8cc4" stroke-width="0.5"/>
<circle cx="165.5" cy="93.0" r="1.25" fill="#86c2ea" stroke="#4f8cc4" stroke-width="0.5"/>
<circle cx="213.2" cy="95.0" r="1.25" fill="#86c2ea" stroke="#4f8cc4" stroke-width="0.5"/>
<circle cx="148.2" cy="100.0" r="1.25" fill="#86c2ea" stroke="#4f8cc4" stroke-width="0.5"/>
<circle cx="150.5" cy="100.0" r="1.25" fill="#86c2ea" stroke="#4f8cc4" stroke-width="0.5"/>
<circle cx="152.8" cy="100.0" r="1.25" fill="#86c2ea" stroke="#4f8cc4" stroke-width="0.5"/>
<circle cx="167.4" cy="100.0" r="1.25" fill="#86c2ea" stroke="#4f8cc4" stroke-width="0.5"/>
<circle cx="169.5" cy="100.5" r="1.25" fill="#86c2ea" stroke="#4f8cc4" stroke-width="0.5"/>
<circle cx="172.0" cy="100.5" r="1.25" fill="#86c2ea" stroke="#4f8cc4" stroke-width="0.5"/>
<circle cx="176.0" cy="100.0" r="1.25" fill="#86c2ea" stroke="#4f8cc4" stroke-width="0.5"/>
<circle cx="178.5" cy="100.0" r="1.25" fill="#86c2ea" stroke="#4f8cc4" stroke-width="0.5"/>
<circle cx="182.0" cy="100.5" r="1.25" fill="#86c2ea" stroke="#4f8cc4" stroke-width="0.5"/>
<circle cx="184.0" cy="100.0" r="1.25" fill="#86c2ea" stroke="#4f8cc4" stroke-width="0.5"/>
<circle cx="186.5" cy="100.5" r="1.25" fill="#86c2ea" stroke="#4f8cc4" stroke-width="0.5"/>
<circle cx="196.8" cy="102.3" r="1.25" fill="#86c2ea" stroke="#4f8cc4" stroke-width="0.5"/>
<circle cx="147.8" cy="121.5" r="1.25" fill="#86c2ea" stroke="#4f8cc4" stroke-width="0.5"/>
<circle cx="158.8" cy="121.5" r="1.25" fill="#86c2ea" stroke="#4f8cc4" stroke-width="0.5"/>
<circle cx="174.0" cy="122.0" r="1.25" fill="#86c2ea" stroke="#4f8cc4" stroke-width="0.5"/>
<circle cx="183.8" cy="121.0" r="1.25" fill="#86c2ea" stroke="#4f8cc4" stroke-width="0.5"/>
<circle cx="86.5" cy="95.0" r="1.45" fill="#1ed21e"/>
<circle cx="88.0" cy="95.0" r="1.45" fill="#1ed21e"/>
<circle cx="90.5" cy="95.0" r="1.45" fill="#1ed21e"/>
<circle cx="93.5" cy="95.0" r="1.45" fill="#1ed21e"/>
<circle cx="94.5" cy="95.0" r="1.45" fill="#1ed21e"/>
<circle cx="95.5" cy="95.0" r="1.45" fill="#1ed21e"/>
<circle cx="96.5" cy="95.0" r="1.45" fill="#1ed21e"/>
<circle cx="97.5" cy="95.0" r="1.45" fill="#1ed21e"/>
<circle cx="99.0" cy="95.3" r="1.45" fill="#1ed21e"/>
<circle cx="101.5" cy="95.5" r="1.45" fill="#1ed21e"/>
<circle cx="109.0" cy="90.4" r="1.45" fill="#1ed21e"/>
<circle cx="109.0" cy="93.0" r="1.45" fill="#1ed21e"/>
<circle cx="110.0" cy="95.0" r="1.45" fill="#1ed21e"/>
<circle cx="120.5" cy="93.3" r="1.45" fill="#1ed21e"/>
<circle cx="125.3" cy="92.3" r="1.45" fill="#1ed21e"/>
<circle cx="129.5" cy="88.3" r="1.45" fill="#1ed21e"/>
<circle cx="134.7" cy="91.5" r="1.45" fill="#1ed21e"/>
<circle cx="136.5" cy="93.0" r="1.45" fill="#1ed21e"/>
<circle cx="138.5" cy="93.5" r="1.45" fill="#1ed21e"/>
<circle cx="140.0" cy="93.0" r="1.45" fill="#1ed21e"/>
<circle cx="141.8" cy="91.5" r="1.45" fill="#1ed21e"/>
<circle cx="189.9" cy="92.1" r="1.45" fill="#1ed21e"/>
<circle cx="196.3" cy="85.0" r="1.45" fill="#1ed21e"/>
<circle cx="100.7" cy="53.8" r="1.45" fill="#f0a020"/>
<circle cx="144.3" cy="57.3" r="1.45" fill="#f0a020"/>
<circle cx="86.8" cy="42.9" r="1.45" fill="#e00000"/>
<circle cx="87.8" cy="41.9" r="1.45" fill="#e00000"/>
<circle cx="89.2" cy="41.0" r="1.45" fill="#e00000"/>
<circle cx="90.7" cy="40.0" r="1.45" fill="#e00000"/>
<circle cx="92.6" cy="39.0" r="1.45" fill="#e00000"/>
<circle cx="95.5" cy="39.0" r="1.45" fill="#e00000"/>
<circle cx="99.3" cy="39.0" r="1.45" fill="#e00000"/>
<circle cx="101.3" cy="38.0" r="1.45" fill="#e00000"/>
<circle cx="101.7" cy="34.8" r="1.45" fill="#e00000"/>
<circle cx="109.0" cy="34.2" r="1.45" fill="#e00000"/>
<circle cx="110.9" cy="34.2" r="1.45" fill="#e00000"/>
<circle cx="111.8" cy="36.5" r="1.45" fill="#e00000"/>
<circle cx="114.7" cy="34.2" r="1.45" fill="#e00000"/>
<circle cx="118.6" cy="34.2" r="1.45" fill="#e00000"/>
<circle cx="120.5" cy="33.3" r="1.45" fill="#e00000"/>
<circle cx="119.5" cy="40.0" r="1.45" fill="#e00000"/>
<circle cx="125.3" cy="33.7" r="1.45" fill="#e00000"/>
<circle cx="128.2" cy="34.8" r="1.45" fill="#e00000"/>
<circle cx="86.8" cy="47.3" r="1.45" fill="#e00000"/>
<circle cx="128.4" cy="34.2" r="1.45" fill="#e00000"/>
<circle cx="134.7" cy="33.8" r="1.45" fill="#e00000"/>
<circle cx="136.0" cy="33.5" r="1.45" fill="#e00000"/>
<circle cx="93.5" cy="38.8" r="1.45" fill="#e00000"/>
<circle cx="112.5" cy="34.0" r="1.45" fill="#e00000"/>
<circle cx="95.5" cy="134.4" r="1.45" fill="#e00000"/>
<path d="M131.6 31.9 L133.4 33.7 L131.6 35.5 L129.8 33.7Z" fill="#7a2fc0"/>
</g>
<text x="112.80" y="31.20" font-size="9.6" text-anchor="start" fill="#000" textLength="35.4" lengthAdjust="spacingAndGlyphs">rs6505211</text>
<rect x="33.50" y="18.50" width="194.00" height="123.80" fill="none" stroke="#000" stroke-width="1.1"/>
<line x1="30.20" y1="136.30" x2="33.50" y2="136.30" stroke="#000" stroke-width="0.9"/>
<text x="27.10" y="139.60" font-size="9.3" text-anchor="end" fill="#222" textLength="4.2" lengthAdjust="spacingAndGlyphs">0</text>
<line x1="30.20" y1="117.47" x2="33.50" y2="117.47" stroke="#000" stroke-width="0.9"/>
<text x="27.10" y="120.77" font-size="9.3" text-anchor="end" fill="#222" textLength="4.2" lengthAdjust="spacingAndGlyphs">5</text>
<line x1="30.20" y1="98.63" x2="33.50" y2="98.63" stroke="#000" stroke-width="0.9"/>
<text x="27.10" y="101.93" font-size="9.3" text-anchor="end" fill="#222" textLength="8.4" lengthAdjust="spacingAndGlyphs">10</text>
<line x1="30.20" y1="79.80" x2="33.50" y2="79.80" stroke="#000" stroke-width="0.9"/>
<text x="27.10" y="83.10" font-size="9.3" text-anchor="end" fill="#222" textLength="8.4" lengthAdjust="spacingAndGlyphs">15</text>
<line x1="30.20" y1="60.96" x2="33.50" y2="60.96" stroke="#000" stroke-width="0.9"/>
<text x="27.10" y="64.26" font-size="9.3" text-anchor="end" fill="#222" textLength="8.4" lengthAdjust="spacingAndGlyphs">20</text>
<line x1="30.20" y1="42.13" x2="33.50" y2="42.13" stroke="#000" stroke-width="0.9"/>
<text x="27.10" y="45.43" font-size="9.3" text-anchor="end" fill="#222" textLength="8.4" lengthAdjust="spacingAndGlyphs">25</text>
<line x1="30.20" y1="23.29" x2="33.50" y2="23.29" stroke="#000" stroke-width="0.9"/>
<text x="27.10" y="26.59" font-size="9.3" text-anchor="end" fill="#222" textLength="8.4" lengthAdjust="spacingAndGlyphs">30</text>
<line x1="227.50" y1="136.00" x2="230.60" y2="136.00" stroke="#3f72aa" stroke-width="0.9"/>
<text x="233.00" y="139.20" font-size="9.2" text-anchor="start" fill="#3f72aa" textLength="4.4" lengthAdjust="spacingAndGlyphs">0</text>
<line x1="227.50" y1="113.60" x2="230.60" y2="113.60" stroke="#3f72aa" stroke-width="0.9"/>
<text x="233.00" y="116.80" font-size="9.2" text-anchor="start" fill="#3f72aa" textLength="8.8" lengthAdjust="spacingAndGlyphs">20</text>
<line x1="227.50" y1="91.20" x2="230.60" y2="91.20" stroke="#3f72aa" stroke-width="0.9"/>
<text x="233.00" y="94.40" font-size="9.2" text-anchor="start" fill="#3f72aa" textLength="8.8" lengthAdjust="spacingAndGlyphs">40</text>
<line x1="227.50" y1="68.80" x2="230.60" y2="68.80" stroke="#3f72aa" stroke-width="0.9"/>
<text x="233.00" y="72.00" font-size="9.2" text-anchor="start" fill="#3f72aa" textLength="8.8" lengthAdjust="spacingAndGlyphs">60</text>
<line x1="227.50" y1="46.40" x2="230.60" y2="46.40" stroke="#3f72aa" stroke-width="0.9"/>
<text x="233.00" y="49.60" font-size="9.2" text-anchor="start" fill="#3f72aa" textLength="8.8" lengthAdjust="spacingAndGlyphs">80</text>
<line x1="227.50" y1="24.00" x2="230.60" y2="24.00" stroke="#3f72aa" stroke-width="0.9"/>
<text x="233.00" y="27.20" font-size="9.2" text-anchor="start" fill="#3f72aa" textLength="13.200000000000001" lengthAdjust="spacingAndGlyphs">100</text>
<text transform="translate(12.8,80) rotate(-90)" font-size="9" text-anchor="middle" fill="#222" textLength="52" lengthAdjust="spacingAndGlyphs">-log<tspan font-size="6.5" dy="1.8">10</tspan><tspan dy="-1.8">(p-value)</tspan></text>
<text transform="translate(246.5,80.4) rotate(90)" font-size="10.3" text-anchor="middle" fill="#3f72aa" textLength="95" lengthAdjust="spacingAndGlyphs">Recombination rate (cM/Mb)</text>
<rect x="198.30" y="21.50" width="26.40" height="48.70" fill="#fff" stroke="#000" stroke-width="0.9"/>
<rect x="200.80" y="34.60" width="4.30" height="6.35" fill="#f40000" stroke="#000" stroke-width="0.5"/>
<rect x="200.80" y="40.95" width="4.30" height="6.35" fill="#f8a400" stroke="#000" stroke-width="0.5"/>
<rect x="200.80" y="47.30" width="4.30" height="6.35" fill="#00e600" stroke="#000" stroke-width="0.5"/>
<rect x="200.80" y="53.65" width="4.30" height="6.35" fill="#8ccdf6" stroke="#000" stroke-width="0.5"/>
<rect x="200.80" y="60.00" width="4.30" height="6.35" fill="#000080" stroke="#000" stroke-width="0.5"/>
<line x1="205.10" y1="40.95" x2="208.40" y2="40.95" stroke="#333" stroke-width="0.7"/>
<text x="211.40" y="43.55" font-size="7.5" text-anchor="start" fill="#222" textLength="10.3" lengthAdjust="spacingAndGlyphs">0.8</text>
<line x1="205.10" y1="47.30" x2="208.40" y2="47.30" stroke="#333" stroke-width="0.7"/>
<text x="211.40" y="49.90" font-size="7.5" text-anchor="start" fill="#222" textLength="10.3" lengthAdjust="spacingAndGlyphs">0.6</text>
<line x1="205.10" y1="53.65" x2="208.40" y2="53.65" stroke="#333" stroke-width="0.7"/>
<text x="211.40" y="56.25" font-size="7.5" text-anchor="start" fill="#222" textLength="10.3" lengthAdjust="spacingAndGlyphs">0.4</text>
<line x1="205.10" y1="60.00" x2="208.40" y2="60.00" stroke="#333" stroke-width="0.7"/>
<text x="211.40" y="62.60" font-size="7.5" text-anchor="start" fill="#222" textLength="10.3" lengthAdjust="spacingAndGlyphs">0.2</text>
<text x="208.40" y="31.90" font-size="7.8" text-anchor="start" fill="#222">r</text>
<text x="210.80" y="29.10" font-size="5.4" text-anchor="start" fill="#222">2</text>
<rect x="33.50" y="145.70" width="194.00" height="33.90" fill="none" stroke="#000" stroke-width="1.1"/>
<text x="36.50" y="152.90" font-size="6.6" text-anchor="start" fill="#333" textLength="35.0" lengthAdjust="spacingAndGlyphs" font-style="italic">LOC107133515</text>
<line x1="73.40" y1="150.70" x2="76.10" y2="150.70" stroke="#000" stroke-width="0.9"/>
<path d="M75.4 149.0 L77.6 150.7 L75.4 152.4Z" fill="#000"/>
<line x1="35.90" y1="157.40" x2="62.80" y2="157.40" stroke="#2f6aa6" stroke-width="0.7"/>
<rect x="35.20" y="156.30" width="1.60" height="2.20" fill="#2f6aa6"/>
<rect x="44.20" y="156.30" width="1.60" height="2.20" fill="#2f6aa6"/>
<rect x="49.20" y="156.30" width="1.60" height="2.20" fill="#2f6aa6"/>
<rect x="52.20" y="156.30" width="1.60" height="2.20" fill="#2f6aa6"/>
<rect x="56.20" y="156.30" width="1.60" height="2.20" fill="#2f6aa6"/>
<rect x="61.20" y="156.30" width="1.60" height="2.20" fill="#2f6aa6"/>
<text x="98.00" y="152.90" font-size="6.6" text-anchor="start" fill="#333" textLength="20.200000000000003" lengthAdjust="spacingAndGlyphs" font-style="italic">SUZ12P1</text>
<line x1="119.90" y1="150.70" x2="122.80" y2="150.70" stroke="#000" stroke-width="0.9"/>
<path d="M122.1 149.0 L124.3 150.7 L122.1 152.4Z" fill="#000"/>
<line x1="93.00" y1="157.40" x2="128.60" y2="157.40" stroke="#2f6aa6" stroke-width="0.7"/>
<rect x="93.20" y="156.30" width="1.60" height="2.20" fill="#2f6aa6"/>
<rect x="100.20" y="156.30" width="1.60" height="2.20" fill="#2f6aa6"/>
<rect x="107.20" y="156.30" width="1.60" height="2.20" fill="#2f6aa6"/>
<rect x="110.20" y="156.30" width="1.60" height="2.20" fill="#2f6aa6"/>
<rect x="114.20" y="156.30" width="1.60" height="2.20" fill="#2f6aa6"/>
<rect x="117.20" y="156.30" width="1.60" height="2.20" fill="#2f6aa6"/>
<rect x="120.20" y="156.30" width="1.60" height="2.20" fill="#2f6aa6"/>
<rect x="123.20" y="156.30" width="1.60" height="2.20" fill="#2f6aa6"/>
<rect x="126.20" y="156.30" width="1.60" height="2.20" fill="#2f6aa6"/>
<text x="138.60" y="152.90" font-size="6.6" text-anchor="start" fill="#333" textLength="14.0" lengthAdjust="spacingAndGlyphs" font-style="italic">ATAD5</text>
<line x1="155.30" y1="150.70" x2="157.70" y2="150.70" stroke="#000" stroke-width="0.9"/>
<path d="M157.0 149.0 L159.2 150.7 L157.0 152.4Z" fill="#000"/>
<line x1="135.30" y1="157.40" x2="163.20" y2="157.40" stroke="#2f6aa6" stroke-width="0.7"/>
<rect x="135.20" y="156.30" width="1.60" height="2.20" fill="#2f6aa6"/>
<rect x="137.20" y="156.30" width="1.60" height="2.20" fill="#2f6aa6"/>
<rect x="140.20" y="156.30" width="1.60" height="2.20" fill="#2f6aa6"/>
<rect x="142.20" y="156.30" width="1.60" height="2.20" fill="#2f6aa6"/>
<rect x="145.20" y="156.30" width="1.60" height="2.20" fill="#2f6aa6"/>
<rect x="148.20" y="156.30" width="1.60" height="2.20" fill="#2f6aa6"/>
<rect x="151.20" y="156.30" width="1.60" height="2.20" fill="#2f6aa6"/>
<rect x="154.20" y="156.30" width="1.60" height="2.20" fill="#2f6aa6"/>
<rect x="157.20" y="156.30" width="1.60" height="2.20" fill="#2f6aa6"/>
<rect x="161.20" y="156.30" width="1.60" height="2.20" fill="#2f6aa6"/>
<text x="169.30" y="152.90" font-size="6.6" text-anchor="start" fill="#333" textLength="14.5" lengthAdjust="spacingAndGlyphs" font-style="italic">ADAP2</text>
<line x1="186.30" y1="150.70" x2="189.00" y2="150.70" stroke="#000" stroke-width="0.9"/>
<path d="M188.3 149.0 L190.5 150.7 L188.3 152.4Z" fill="#000"/>
<line x1="171.30" y1="157.40" x2="187.60" y2="157.40" stroke="#2f6aa6" stroke-width="0.7"/>
<rect x="171.20" y="156.30" width="1.60" height="2.20" fill="#2f6aa6"/>
<rect x="174.20" y="156.30" width="1.60" height="2.20" fill="#2f6aa6"/>
<rect x="177.20" y="156.30" width="1.60" height="2.20" fill="#2f6aa6"/>
<rect x="180.20" y="156.30" width="1.60" height="2.20" fill="#2f6aa6"/>
<rect x="183.20" y="156.30" width="1.60" height="2.20" fill="#2f6aa6"/>
<rect x="186.20" y="156.30" width="1.60" height="2.20" fill="#2f6aa6"/>
<text x="200.10" y="152.90" font-size="6.6" text-anchor="start" fill="#333" textLength="17.30000000000001" lengthAdjust="spacingAndGlyphs" font-style="italic">RNF135</text>
<line x1="219.30" y1="150.70" x2="222.10" y2="150.70" stroke="#000" stroke-width="0.9"/>
<path d="M221.4 149.0 L223.6 150.7 L221.4 152.4Z" fill="#000"/>
<line x1="204.00" y1="157.40" x2="217.40" y2="157.40" stroke="#2f6aa6" stroke-width="0.7"/>
<rect x="204.20" y="156.30" width="1.60" height="2.20" fill="#2f6aa6"/>
<rect x="209.20" y="156.30" width="1.60" height="2.20" fill="#2f6aa6"/>
<rect x="215.20" y="156.30" width="1.60" height="2.20" fill="#2f6aa6"/>
<text x="43.60" y="169.80" font-size="6.6" text-anchor="start" fill="#333" textLength="23.6" lengthAdjust="spacingAndGlyphs" font-style="italic">SH3GL1P2</text>
<line x1="68.60" y1="167.60" x2="71.90" y2="167.60" stroke="#000" stroke-width="0.9"/>
<path d="M71.2 165.9 L73.4 167.6 L71.2 169.3Z" fill="#000"/>
<circle cx="55.7" cy="172.8" r="0.9" fill="#2f6aa6"/>
<line x1="124.90" y1="167.60" x2="128.00" y2="167.60" stroke="#000" stroke-width="0.9"/>
<path d="M125.6 165.9 L123.4 167.6 L125.6 169.3Z" fill="#000"/>
<text x="129.00" y="169.80" font-size="6.6" text-anchor="start" fill="#333" textLength="14" lengthAdjust="spacingAndGlyphs" font-style="italic">CRLF3</text>
<line x1="124.30" y1="172.80" x2="142.40" y2="172.80" stroke="#2f6aa6" stroke-width="0.7"/>
<rect x="124.20" y="171.70" width="1.60" height="2.20" fill="#2f6aa6"/>
<rect x="127.20" y="171.70" width="1.60" height="2.20" fill="#2f6aa6"/>
<rect x="130.20" y="171.70" width="1.60" height="2.20" fill="#2f6aa6"/>
<rect x="133.20" y="171.70" width="1.60" height="2.20" fill="#2f6aa6"/>
<rect x="136.20" y="171.70" width="1.60" height="2.20" fill="#2f6aa6"/>
<rect x="139.20" y="171.70" width="1.60" height="2.20" fill="#2f6aa6"/>
<rect x="141.20" y="171.70" width="1.60" height="2.20" fill="#2f6aa6"/>
<line x1="167.00" y1="167.60" x2="169.90" y2="167.60" stroke="#000" stroke-width="0.9"/>
<path d="M167.7 165.9 L165.5 167.6 L167.7 169.3Z" fill="#000"/>
<text x="171.80" y="169.80" font-size="6.6" text-anchor="start" fill="#333" textLength="12.0" lengthAdjust="spacingAndGlyphs" font-style="italic">TEFM</text>
<rect x="173.20" y="171.70" width="3.80" height="2.20" fill="#2f6aa6"/>
<text x="195.70" y="169.80" font-size="6.6" text-anchor="start" fill="#333" textLength="17.900000000000006" lengthAdjust="spacingAndGlyphs" font-style="italic">DPRXP4</text>
<line x1="219.30" y1="167.60" x2="222.10" y2="167.60" stroke="#000" stroke-width="0.9"/>
<path d="M221.4 165.9 L223.6 167.6 L221.4 169.3Z" fill="#000"/>
<circle cx="206.5" cy="172.8" r="0.8" fill="#2f6aa6"/>
<line x1="35.50" y1="179.70" x2="35.50" y2="182.30" stroke="#000" stroke-width="0.9"/>
<text x="35.50" y="192.20" font-size="8.8" text-anchor="middle" fill="#222" textLength="15.299999999999999" lengthAdjust="spacingAndGlyphs">28.9</text>
<line x1="77.80" y1="179.70" x2="77.80" y2="182.30" stroke="#000" stroke-width="0.9"/>
<text x="77.80" y="192.20" font-size="8.8" text-anchor="middle" fill="#222" textLength="8.6" lengthAdjust="spacingAndGlyphs">29</text>
<line x1="120.10" y1="179.70" x2="120.10" y2="182.30" stroke="#000" stroke-width="0.9"/>
<text x="120.10" y="192.20" font-size="8.8" text-anchor="middle" fill="#222" textLength="15.299999999999999" lengthAdjust="spacingAndGlyphs">29.1</text>
<line x1="162.60" y1="179.70" x2="162.60" y2="182.30" stroke="#000" stroke-width="0.9"/>
<text x="162.60" y="192.20" font-size="8.8" text-anchor="middle" fill="#222" textLength="15.299999999999999" lengthAdjust="spacingAndGlyphs">29.2</text>
<line x1="205.20" y1="179.70" x2="205.20" y2="182.30" stroke="#000" stroke-width="0.9"/>
<text x="205.20" y="192.20" font-size="8.8" text-anchor="middle" fill="#222" textLength="15.299999999999999" lengthAdjust="spacingAndGlyphs">29.3</text>
<text x="120.40" y="205.50" font-size="10.4" text-anchor="middle" fill="#222" textLength="75.8" lengthAdjust="spacingAndGlyphs">Position on chr17 (Mb)</text>
<path d="M292.5 121.5 L293.8 121.5 L294.5 109.2 L295.4 109.2 L296.5 113.5 L297.5 121.5 L305.3 121.5 L305.6 108.1 L308.7 108.1 L309.2 121.5 L325.9 121.5 L326.4 35.9 L326.9 35.9 L327.4 119 L440.8 119 L441.3 99.3 L441.8 119 L460.8 119 L461.2 112 L461.7 119 L485 120" fill="none" stroke="#5a5af5" stroke-width="0.85" opacity="0.9"/>
<rect x="292.30" y="118.80" width="193.00" height="3.60" fill="#10105a"/>
<circle cx="430.0" cy="120.1" r="1.3" fill="#111170"/>
<circle cx="460.2" cy="119.1" r="1.3" fill="#111170"/>
<circle cx="322.9" cy="119.1" r="1.3" fill="#55555e"/>
<circle cx="357.2" cy="118.8" r="1.3" fill="#111170"/>
<circle cx="354.1" cy="121.3" r="1.3" fill="#111170"/>
<circle cx="480.9" cy="118.4" r="1.3" fill="#55555e"/>
<circle cx="421.3" cy="118.9" r="1.3" fill="#111170"/>
<circle cx="348.0" cy="119.1" r="1.3" fill="#111170"/>
<circle cx="362.9" cy="121.6" r="1.3" fill="#55555e"/>
<circle cx="470.6" cy="118.5" r="1.3" fill="#111170"/>
<circle cx="465.1" cy="118.4" r="1.3" fill="#111170"/>
<circle cx="349.4" cy="121.5" r="1.3" fill="#111170"/>
<circle cx="447.9" cy="119.4" r="1.3" fill="#111170"/>
<circle cx="293.4" cy="121.0" r="1.3" fill="#111170"/>
<circle cx="328.7" cy="119.7" r="1.3" fill="#55555e"/>
<circle cx="334.9" cy="120.1" r="1.3" fill="#111170"/>
<circle cx="327.6" cy="120.8" r="1.3" fill="#111170"/>
<circle cx="330.8" cy="118.5" r="1.3" fill="#111170"/>
<circle cx="409.8" cy="119.9" r="1.3" fill="#111170"/>
<circle cx="332.6" cy="120.3" r="1.3" fill="#111170"/>
<circle cx="448.8" cy="120.2" r="1.3" fill="#111170"/>
<circle cx="305.6" cy="120.7" r="1.3" fill="#111170"/>
<circle cx="431.6" cy="118.4" r="1.3" fill="#55555e"/>
<circle cx="357.4" cy="121.1" r="1.3" fill="#55555e"/>
<circle cx="387.7" cy="118.3" r="1.3" fill="#55555e"/>
<circle cx="384.5" cy="121.2" r="1.3" fill="#111170"/>
<circle cx="328.7" cy="121.0" r="1.3" fill="#111170"/>
<circle cx="324.4" cy="119.5" r="1.3" fill="#111170"/>
<circle cx="293.9" cy="120.0" r="1.3" fill="#111170"/>
<circle cx="392.0" cy="118.6" r="1.3" fill="#111170"/>
<circle cx="449.8" cy="121.1" r="1.3" fill="#111170"/>
<circle cx="429.5" cy="119.5" r="1.3" fill="#111170"/>
<circle cx="304.8" cy="121.2" r="1.3" fill="#55555e"/>
<circle cx="388.0" cy="119.9" r="1.3" fill="#111170"/>
<circle cx="396.2" cy="118.3" r="1.3" fill="#55555e"/>
<circle cx="336.0" cy="118.8" r="1.3" fill="#111170"/>
<circle cx="341.1" cy="121.0" r="1.3" fill="#111170"/>
<circle cx="311.5" cy="120.6" r="1.3" fill="#111170"/>
<circle cx="296.4" cy="120.2" r="1.3" fill="#111170"/>
<circle cx="393.4" cy="120.6" r="1.3" fill="#111170"/>
<circle cx="459.9" cy="120.6" r="1.3" fill="#111170"/>
<circle cx="316.6" cy="119.9" r="1.3" fill="#111170"/>
<circle cx="346.7" cy="118.6" r="1.3" fill="#111170"/>
<circle cx="319.3" cy="120.2" r="1.3" fill="#55555e"/>
<circle cx="321.3" cy="120.1" r="1.3" fill="#111170"/>
<circle cx="324.6" cy="121.0" r="1.3" fill="#55555e"/>
<circle cx="367.6" cy="119.6" r="1.3" fill="#55555e"/>
<circle cx="393.9" cy="119.5" r="1.3" fill="#55555e"/>
<circle cx="442.2" cy="119.4" r="1.3" fill="#111170"/>
<circle cx="357.3" cy="119.7" r="1.3" fill="#55555e"/>
<circle cx="447.4" cy="121.3" r="1.3" fill="#55555e"/>
<circle cx="455.7" cy="118.4" r="1.3" fill="#111170"/>
<circle cx="476.9" cy="121.4" r="1.3" fill="#111170"/>
<circle cx="374.1" cy="120.4" r="1.3" fill="#111170"/>
<circle cx="394.9" cy="118.4" r="1.3" fill="#111170"/>
<circle cx="389.9" cy="118.3" r="1.3" fill="#111170"/>
<circle cx="479.2" cy="120.8" r="1.3" fill="#55555e"/>
<circle cx="414.6" cy="121.0" r="1.3" fill="#55555e"/>
<circle cx="462.9" cy="118.3" r="1.3" fill="#111170"/>
<circle cx="344.0" cy="120.5" r="1.3" fill="#111170"/>
<circle cx="397.1" cy="121.3" r="1.3" fill="#111170"/>
<circle cx="341.1" cy="120.0" r="1.3" fill="#111170"/>
<circle cx="475.6" cy="119.2" r="1.3" fill="#111170"/>
<circle cx="417.3" cy="118.6" r="1.3" fill="#111170"/>
<circle cx="476.6" cy="119.9" r="1.3" fill="#111170"/>
<circle cx="382.6" cy="120.0" r="1.3" fill="#111170"/>
<circle cx="316.8" cy="118.6" r="1.3" fill="#111170"/>
<circle cx="371.1" cy="119.2" r="1.3" fill="#111170"/>
<circle cx="309.9" cy="120.1" r="1.3" fill="#55555e"/>
<circle cx="410.1" cy="120.1" r="1.3" fill="#111170"/>
<circle cx="331.6" cy="120.6" r="1.3" fill="#111170"/>
<circle cx="398.2" cy="120.3" r="1.3" fill="#111170"/>
<circle cx="352.6" cy="119.0" r="1.3" fill="#111170"/>
<circle cx="391.4" cy="119.5" r="1.3" fill="#111170"/>
<circle cx="295.3" cy="119.4" r="1.3" fill="#55555e"/>
<circle cx="338.8" cy="120.1" r="1.3" fill="#111170"/>
<circle cx="347.7" cy="121.6" r="1.3" fill="#111170"/>
<circle cx="441.2" cy="118.7" r="1.3" fill="#111170"/>
<circle cx="460.3" cy="119.7" r="1.3" fill="#111170"/>
<circle cx="367.5" cy="119.7" r="1.3" fill="#111170"/>
<circle cx="314.0" cy="119.0" r="1.3" fill="#55555e"/>
<circle cx="434.8" cy="118.7" r="1.3" fill="#111170"/>
<circle cx="360.7" cy="120.5" r="1.3" fill="#111170"/>
<circle cx="456.2" cy="121.0" r="1.3" fill="#111170"/>
<circle cx="434.8" cy="120.7" r="1.3" fill="#111170"/>
<circle cx="384.2" cy="120.9" r="1.3" fill="#111170"/>
<circle cx="468.6" cy="118.6" r="1.3" fill="#55555e"/>
<circle cx="293.8" cy="120.8" r="1.3" fill="#111170"/>
<circle cx="388.6" cy="121.5" r="1.3" fill="#111170"/>
<circle cx="373.2" cy="120.9" r="1.3" fill="#55555e"/>
<circle cx="409.6" cy="119.5" r="1.3" fill="#111170"/>
<circle cx="380.9" cy="120.7" r="1.3" fill="#111170"/>
<circle cx="368.0" cy="120.1" r="1.3" fill="#111170"/>
<circle cx="354.8" cy="120.9" r="1.3" fill="#55555e"/>
<circle cx="388.9" cy="119.7" r="1.3" fill="#111170"/>
<circle cx="351.4" cy="118.7" r="1.3" fill="#111170"/>
<circle cx="404.7" cy="118.5" r="1.3" fill="#55555e"/>
<circle cx="355.2" cy="121.1" r="1.3" fill="#55555e"/>
<circle cx="477.1" cy="118.9" r="1.3" fill="#111170"/>
<circle cx="467.8" cy="118.2" r="1.3" fill="#111170"/>
<circle cx="401.5" cy="119.9" r="1.3" fill="#55555e"/>
<circle cx="441.5" cy="120.0" r="1.3" fill="#55555e"/>
<circle cx="392.4" cy="120.0" r="1.3" fill="#111170"/>
<circle cx="367.8" cy="119.4" r="1.3" fill="#111170"/>
<circle cx="360.4" cy="121.4" r="1.3" fill="#111170"/>
<circle cx="393.8" cy="118.5" r="1.3" fill="#111170"/>
<circle cx="370.0" cy="120.1" r="1.3" fill="#111170"/>
<circle cx="461.9" cy="121.5" r="1.3" fill="#111170"/>
<circle cx="377.5" cy="120.3" r="1.3" fill="#55555e"/>
<circle cx="358.9" cy="120.0" r="1.3" fill="#55555e"/>
<circle cx="325.8" cy="119.3" r="1.3" fill="#55555e"/>
<circle cx="451.6" cy="119.9" r="1.3" fill="#111170"/>
<circle cx="464.7" cy="120.5" r="1.3" fill="#55555e"/>
<circle cx="483.1" cy="121.2" r="1.3" fill="#111170"/>
<circle cx="323.0" cy="119.2" r="1.3" fill="#111170"/>
<circle cx="389.9" cy="118.8" r="1.3" fill="#111170"/>
<circle cx="414.0" cy="120.3" r="1.3" fill="#111170"/>
<circle cx="483.8" cy="120.4" r="1.3" fill="#111170"/>
<circle cx="372.0" cy="120.9" r="1.3" fill="#111170"/>
<circle cx="425.6" cy="118.2" r="1.3" fill="#111170"/>
<circle cx="454.7" cy="120.2" r="1.3" fill="#111170"/>
<circle cx="330.8" cy="119.9" r="1.3" fill="#111170"/>
<circle cx="344.1" cy="120.4" r="1.3" fill="#111170"/>
<circle cx="484.4" cy="120.2" r="1.3" fill="#111170"/>
<circle cx="316.3" cy="118.7" r="1.3" fill="#111170"/>
<circle cx="313.5" cy="118.5" r="1.3" fill="#111170"/>
<circle cx="393.3" cy="121.0" r="1.3" fill="#111170"/>
<circle cx="447.9" cy="118.4" r="1.3" fill="#111170"/>
<circle cx="441.0" cy="119.3" r="1.3" fill="#111170"/>
<circle cx="360.9" cy="118.8" r="1.3" fill="#111170"/>
<circle cx="312.1" cy="121.3" r="1.3" fill="#111170"/>
<circle cx="360.0" cy="119.7" r="1.3" fill="#111170"/>
<circle cx="303.5" cy="121.2" r="1.3" fill="#111170"/>
<circle cx="477.2" cy="119.7" r="1.3" fill="#111170"/>
<circle cx="340.9" cy="118.3" r="1.3" fill="#55555e"/>
<circle cx="457.1" cy="119.3" r="1.3" fill="#55555e"/>
<circle cx="449.7" cy="119.2" r="1.3" fill="#111170"/>
<circle cx="477.3" cy="119.9" r="1.3" fill="#55555e"/>
<circle cx="339.6" cy="119.5" r="1.3" fill="#111170"/>
<circle cx="335.5" cy="119.3" r="1.3" fill="#55555e"/>
<circle cx="386.0" cy="120.9" r="1.3" fill="#111170"/>
<circle cx="326.3" cy="119.4" r="1.3" fill="#111170"/>
<circle cx="479.5" cy="119.2" r="1.3" fill="#111170"/>
<circle cx="315.1" cy="120.0" r="1.3" fill="#111170"/>
<circle cx="370.4" cy="118.4" r="1.3" fill="#111170"/>
<circle cx="451.6" cy="119.4" r="1.3" fill="#111170"/>
<circle cx="329.7" cy="119.2" r="1.3" fill="#111170"/>
<circle cx="299.7" cy="120.5" r="1.3" fill="#111170"/>
<circle cx="322.9" cy="120.6" r="1.3" fill="#111170"/>
<circle cx="344.8" cy="121.0" r="1.3" fill="#111170"/>
<circle cx="378.1" cy="121.0" r="1.3" fill="#55555e"/>
<circle cx="323.6" cy="119.4" r="1.3" fill="#111170"/>
<circle cx="365.4" cy="121.5" r="1.3" fill="#111170"/>
<circle cx="475.6" cy="119.9" r="1.3" fill="#111170"/>
<circle cx="379.9" cy="118.6" r="1.3" fill="#111170"/>
<circle cx="343.1" cy="121.3" r="1.3" fill="#111170"/>
<circle cx="363.7" cy="119.0" r="1.3" fill="#111170"/>
<circle cx="333.8" cy="121.2" r="1.3" fill="#111170"/>
<circle cx="391.5" cy="120.0" r="1.3" fill="#111170"/>
<circle cx="441.2" cy="119.5" r="1.3" fill="#111170"/>
<circle cx="402.0" cy="119.3" r="1.3" fill="#111170"/>
<circle cx="309.5" cy="118.8" r="1.3" fill="#55555e"/>
<circle cx="354.6" cy="120.5" r="1.3" fill="#111170"/>
<circle cx="400.9" cy="119.4" r="1.3" fill="#111170"/>
<circle cx="350.0" cy="118.4" r="1.3" fill="#111170"/>
<circle cx="336.5" cy="118.6" r="1.3" fill="#111170"/>
<circle cx="347.2" cy="119.6" r="1.3" fill="#55555e"/>
<circle cx="441.8" cy="121.2" r="1.3" fill="#55555e"/>
<circle cx="318.4" cy="119.1" r="1.3" fill="#111170"/>
<circle cx="423.5" cy="120.5" r="1.3" fill="#111170"/>
<circle cx="372.2" cy="120.4" r="1.3" fill="#111170"/>
<circle cx="340.7" cy="121.1" r="1.3" fill="#111170"/>
<circle cx="413.7" cy="118.8" r="1.3" fill="#111170"/>
<circle cx="468.2" cy="120.7" r="1.3" fill="#111170"/>
<circle cx="300.8" cy="118.3" r="1.3" fill="#111170"/>
<circle cx="331.0" cy="119.2" r="1.3" fill="#111170"/>
<circle cx="300.5" cy="119.3" r="1.3" fill="#111170"/>
<circle cx="327.5" cy="121.1" r="1.3" fill="#111170"/>
<circle cx="430.6" cy="119.1" r="1.3" fill="#111170"/>
<circle cx="424.4" cy="119.4" r="1.3" fill="#111170"/>
<circle cx="453.2" cy="120.8" r="1.3" fill="#111170"/>
<circle cx="301.2" cy="121.1" r="1.3" fill="#111170"/>
<circle cx="302.1" cy="119.0" r="1.3" fill="#111170"/>
<circle cx="445.0" cy="118.9" r="1.3" fill="#55555e"/>
<circle cx="436.9" cy="118.5" r="1.3" fill="#111170"/>
<circle cx="368.6" cy="120.7" r="1.3" fill="#55555e"/>
<circle cx="347.0" cy="118.5" r="1.3" fill="#55555e"/>
<circle cx="374.4" cy="121.4" r="1.3" fill="#111170"/>
<circle cx="434.8" cy="121.0" r="1.3" fill="#111170"/>
<circle cx="379.9" cy="118.4" r="1.3" fill="#111170"/>
<circle cx="375.2" cy="119.9" r="1.3" fill="#55555e"/>
<circle cx="317.5" cy="120.8" r="1.3" fill="#111170"/>
<circle cx="427.9" cy="120.9" r="1.3" fill="#111170"/>
<circle cx="397.9" cy="121.5" r="1.3" fill="#111170"/>
<circle cx="397.4" cy="119.0" r="1.3" fill="#111170"/>
<circle cx="361.7" cy="119.6" r="1.3" fill="#111170"/>
<circle cx="352.6" cy="118.7" r="1.3" fill="#111170"/>
<circle cx="421.7" cy="119.0" r="1.3" fill="#111170"/>
<circle cx="392.0" cy="119.7" r="1.3" fill="#55555e"/>
<circle cx="360.5" cy="119.2" r="1.3" fill="#55555e"/>
<circle cx="320.2" cy="120.1" r="1.3" fill="#111170"/>
<circle cx="449.6" cy="120.1" r="1.3" fill="#111170"/>
<circle cx="325.5" cy="120.5" r="1.3" fill="#111170"/>
<circle cx="381.5" cy="120.8" r="1.3" fill="#55555e"/>
<circle cx="315.0" cy="119.2" r="1.3" fill="#111170"/>
<circle cx="332.6" cy="118.4" r="1.3" fill="#111170"/>
<circle cx="330.8" cy="120.6" r="1.3" fill="#111170"/>
<circle cx="314.7" cy="119.3" r="1.3" fill="#111170"/>
<circle cx="362.7" cy="118.8" r="1.3" fill="#111170"/>
<circle cx="295.1" cy="121.6" r="1.3" fill="#111170"/>
<circle cx="309.1" cy="120.6" r="1.3" fill="#55555e"/>
<circle cx="401.2" cy="118.6" r="1.3" fill="#111170"/>
<circle cx="376.4" cy="118.8" r="1.3" fill="#111170"/>
<circle cx="294.6" cy="121.3" r="1.3" fill="#111170"/>
<circle cx="413.5" cy="121.4" r="1.3" fill="#111170"/>
<circle cx="341.3" cy="119.0" r="1.3" fill="#111170"/>
<circle cx="298.3" cy="120.8" r="1.3" fill="#55555e"/>
<circle cx="349.9" cy="118.8" r="1.3" fill="#111170"/>
<circle cx="455.4" cy="121.4" r="1.3" fill="#111170"/>
<circle cx="443.6" cy="121.0" r="1.3" fill="#111170"/>
<circle cx="355.7" cy="118.8" r="1.3" fill="#55555e"/>
<circle cx="354.5" cy="119.5" r="1.3" fill="#111170"/>
<circle cx="363.9" cy="121.0" r="1.3" fill="#111170"/>
<circle cx="300.9" cy="120.1" r="1.3" fill="#111170"/>
<circle cx="450.4" cy="120.6" r="1.3" fill="#55555e"/>
<circle cx="474.4" cy="119.9" r="1.3" fill="#111170"/>
<circle cx="323.2" cy="119.2" r="1.3" fill="#111170"/>
<circle cx="308.4" cy="120.5" r="1.3" fill="#111170"/>
<circle cx="378.1" cy="121.5" r="1.3" fill="#111170"/>
<circle cx="300.7" cy="119.7" r="1.3" fill="#111170"/>
<circle cx="431.8" cy="118.2" r="1.3" fill="#55555e"/>
<circle cx="457.2" cy="120.9" r="1.3" fill="#111170"/>
<circle cx="347.4" cy="120.4" r="1.3" fill="#111170"/>
<circle cx="373.9" cy="119.4" r="1.3" fill="#111170"/>
<circle cx="420.9" cy="121.0" r="1.3" fill="#55555e"/>
<circle cx="324.6" cy="119.2" r="1.3" fill="#111170"/>
<circle cx="401.2" cy="119.4" r="1.3" fill="#111170"/>
<circle cx="309.3" cy="119.3" r="1.3" fill="#111170"/>
<circle cx="479.5" cy="121.3" r="1.3" fill="#55555e"/>
<circle cx="480.1" cy="121.5" r="1.3" fill="#111170"/>
<circle cx="448.7" cy="118.4" r="1.3" fill="#111170"/>
<circle cx="410.0" cy="119.2" r="1.3" fill="#111170"/>
<circle cx="475.9" cy="119.8" r="1.3" fill="#111170"/>
<circle cx="350.5" cy="119.4" r="1.3" fill="#55555e"/>
<circle cx="298.3" cy="118.8" r="1.3" fill="#111170"/>
<circle cx="378.9" cy="118.5" r="1.3" fill="#111170"/>
<circle cx="364.4" cy="120.2" r="1.3" fill="#111170"/>
<circle cx="394.8" cy="120.1" r="1.3" fill="#111170"/>
<circle cx="314.9" cy="118.8" r="1.3" fill="#55555e"/>
<circle cx="398.2" cy="118.6" r="1.3" fill="#55555e"/>
<circle cx="341.7" cy="118.5" r="1.3" fill="#111170"/>
<circle cx="341.3" cy="119.9" r="1.3" fill="#111170"/>
<circle cx="336.5" cy="120.1" r="1.3" fill="#111170"/>
<circle cx="391.5" cy="120.2" r="1.3" fill="#111170"/>
<circle cx="371.3" cy="118.4" r="1.3" fill="#111170"/>
<circle cx="458.8" cy="120.1" r="1.3" fill="#111170"/>
<circle cx="438.3" cy="118.6" r="1.3" fill="#55555e"/>
<circle cx="431.5" cy="118.5" r="1.3" fill="#55555e"/>
<circle cx="368.3" cy="118.8" r="1.3" fill="#55555e"/>
<circle cx="401.1" cy="120.8" r="1.3" fill="#111170"/>
<circle cx="442.0" cy="118.4" r="1.3" fill="#111170"/>
<circle cx="364.5" cy="118.3" r="1.3" fill="#111170"/>
<circle cx="333.9" cy="119.2" r="1.3" fill="#111170"/>
<circle cx="374.8" cy="121.2" r="1.3" fill="#111170"/>
<circle cx="460.4" cy="120.1" r="1.3" fill="#55555e"/>
<circle cx="460.2" cy="118.8" r="1.3" fill="#111170"/>
<circle cx="358.5" cy="120.8" r="1.3" fill="#111170"/>
<circle cx="451.5" cy="118.6" r="1.3" fill="#111170"/>
<circle cx="434.6" cy="121.4" r="1.3" fill="#111170"/>
<circle cx="301.4" cy="120.3" r="1.3" fill="#111170"/>
<circle cx="398.4" cy="120.9" r="1.3" fill="#111170"/>
<circle cx="470.7" cy="120.5" r="1.3" fill="#111170"/>
<circle cx="330.1" cy="119.7" r="1.3" fill="#55555e"/>
<circle cx="404.6" cy="118.6" r="1.3" fill="#111170"/>
<circle cx="314.2" cy="120.9" r="1.3" fill="#111170"/>
<circle cx="399.4" cy="119.2" r="1.3" fill="#111170"/>
<circle cx="366.1" cy="118.7" r="1.3" fill="#55555e"/>
<circle cx="396.4" cy="120.5" r="1.3" fill="#55555e"/>
<circle cx="475.2" cy="118.2" r="1.3" fill="#111170"/>
<circle cx="322.0" cy="119.9" r="1.3" fill="#55555e"/>
<circle cx="446.7" cy="118.3" r="1.3" fill="#111170"/>
<circle cx="450.1" cy="120.5" r="1.3" fill="#111170"/>
<circle cx="384.3" cy="118.7" r="1.3" fill="#55555e"/>
<circle cx="368.5" cy="121.2" r="1.3" fill="#111170"/>
<circle cx="307.6" cy="119.3" r="1.3" fill="#111170"/>
<circle cx="464.6" cy="120.2" r="1.3" fill="#111170"/>
<circle cx="325.6" cy="119.4" r="1.3" fill="#111170"/>
<circle cx="403.8" cy="119.5" r="1.3" fill="#111170"/>
<circle cx="294.1" cy="120.2" r="1.3" fill="#111170"/>
<circle cx="296.9" cy="119.8" r="1.3" fill="#55555e"/>
<circle cx="301.7" cy="118.7" r="1.3" fill="#111170"/>
<circle cx="345.4" cy="119.1" r="1.3" fill="#111170"/>
<circle cx="343.3" cy="120.1" r="1.3" fill="#111170"/>
<circle cx="476.7" cy="121.6" r="1.3" fill="#111170"/>
<circle cx="400.6" cy="120.8" r="1.3" fill="#55555e"/>
<circle cx="441.7" cy="120.4" r="1.3" fill="#111170"/>
<circle cx="362.7" cy="119.2" r="1.3" fill="#111170"/>
<circle cx="460.6" cy="121.4" r="1.3" fill="#111170"/>
<circle cx="351.4" cy="120.8" r="1.3" fill="#111170"/>
<circle cx="390.7" cy="120.4" r="1.3" fill="#111170"/>
<circle cx="398.7" cy="119.6" r="1.3" fill="#111170"/>
<circle cx="357.7" cy="119.3" r="1.3" fill="#55555e"/>
<circle cx="385.4" cy="119.4" r="1.3" fill="#111170"/>
<circle cx="338.1" cy="119.4" r="1.3" fill="#111170"/>
<circle cx="294.4" cy="121.2" r="1.3" fill="#111170"/>
<circle cx="378.5" cy="120.1" r="1.3" fill="#111170"/>
<circle cx="325.4" cy="118.4" r="1.3" fill="#111170"/>
<circle cx="352.2" cy="120.7" r="1.3" fill="#111170"/>
<circle cx="473.0" cy="119.4" r="1.3" fill="#55555e"/>
<circle cx="405.0" cy="118.5" r="1.3" fill="#111170"/>
<circle cx="404.5" cy="121.6" r="1.3" fill="#111170"/>
<circle cx="441.7" cy="119.7" r="1.3" fill="#55555e"/>
<circle cx="306.0" cy="119.8" r="1.3" fill="#55555e"/>
<circle cx="346.0" cy="119.1" r="1.3" fill="#111170"/>
<circle cx="324.6" cy="119.1" r="1.3" fill="#111170"/>
<circle cx="334.9" cy="119.6" r="1.3" fill="#111170"/>
<circle cx="408.8" cy="121.1" r="1.3" fill="#111170"/>
<circle cx="330.8" cy="120.7" r="1.3" fill="#55555e"/>
<circle cx="408.4" cy="118.5" r="1.3" fill="#55555e"/>
<circle cx="461.1" cy="119.4" r="1.3" fill="#111170"/>
<circle cx="329.1" cy="120.0" r="1.3" fill="#55555e"/>
<circle cx="415.9" cy="121.3" r="1.3" fill="#111170"/>
<circle cx="355.7" cy="120.7" r="1.3" fill="#111170"/>
<circle cx="370.8" cy="120.5" r="1.3" fill="#111170"/>
<circle cx="304.0" cy="119.6" r="1.3" fill="#111170"/>
<circle cx="413.3" cy="119.3" r="1.3" fill="#111170"/>
<circle cx="407.8" cy="119.1" r="1.3" fill="#111170"/>
<circle cx="295.6" cy="121.3" r="1.3" fill="#111170"/>
<circle cx="482.6" cy="118.4" r="1.3" fill="#111170"/>
<circle cx="432.0" cy="119.3" r="1.3" fill="#111170"/>
<circle cx="323.0" cy="118.7" r="1.3" fill="#111170"/>
<circle cx="310.3" cy="121.0" r="1.3" fill="#111170"/>
<circle cx="396.4" cy="120.2" r="1.3" fill="#111170"/>
<circle cx="419.2" cy="120.2" r="1.3" fill="#111170"/>
<circle cx="435.3" cy="119.1" r="1.3" fill="#111170"/>
<circle cx="439.6" cy="120.8" r="1.3" fill="#111170"/>
<circle cx="441.3" cy="121.5" r="1.3" fill="#111170"/>
<circle cx="346.4" cy="120.0" r="1.3" fill="#55555e"/>
<circle cx="318.3" cy="118.2" r="1.3" fill="#111170"/>
<circle cx="418.8" cy="120.8" r="1.3" fill="#111170"/>
<circle cx="483.0" cy="119.0" r="1.3" fill="#111170"/>
<circle cx="310.3" cy="118.3" r="1.3" fill="#111170"/>
<circle cx="304.6" cy="119.9" r="1.3" fill="#111170"/>
<circle cx="327.9" cy="121.4" r="1.3" fill="#111170"/>
<circle cx="321.7" cy="118.8" r="1.3" fill="#111170"/>
<circle cx="469.9" cy="118.8" r="1.3" fill="#111170"/>
<circle cx="442.4" cy="119.0" r="1.3" fill="#55555e"/>
<circle cx="388.8" cy="120.4" r="1.3" fill="#111170"/>
<circle cx="446.7" cy="119.8" r="1.3" fill="#111170"/>
<circle cx="466.5" cy="118.6" r="1.3" fill="#111170"/>
<circle cx="305.6" cy="120.4" r="1.3" fill="#111170"/>
<circle cx="458.9" cy="118.4" r="1.3" fill="#111170"/>
<circle cx="371.7" cy="121.3" r="1.3" fill="#55555e"/>
<circle cx="413.4" cy="119.0" r="1.3" fill="#111170"/>
<circle cx="343.4" cy="119.7" r="1.3" fill="#111170"/>
<circle cx="332.0" cy="120.8" r="1.3" fill="#111170"/>
<circle cx="350.3" cy="121.6" r="1.3" fill="#111170"/>
<circle cx="402.3" cy="118.7" r="1.3" fill="#55555e"/>
<circle cx="459.9" cy="119.1" r="1.3" fill="#111170"/>
<circle cx="451.0" cy="119.2" r="1.3" fill="#111170"/>
<circle cx="386.2" cy="121.2" r="1.3" fill="#111170"/>
<circle cx="424.1" cy="120.2" r="1.3" fill="#111170"/>
<circle cx="404.2" cy="121.2" r="1.3" fill="#111170"/>
<circle cx="462.6" cy="119.4" r="1.3" fill="#111170"/>
<circle cx="458.8" cy="118.8" r="1.3" fill="#55555e"/>
<circle cx="484.0" cy="119.2" r="1.3" fill="#111170"/>
<circle cx="314.4" cy="121.5" r="1.3" fill="#111170"/>
<circle cx="468.0" cy="118.7" r="1.3" fill="#111170"/>
<circle cx="311.7" cy="118.8" r="1.3" fill="#111170"/>
<circle cx="310.3" cy="119.4" r="1.3" fill="#55555e"/>
<circle cx="430.5" cy="121.2" r="1.3" fill="#55555e"/>
<circle cx="299.3" cy="119.0" r="1.3" fill="#111170"/>
<circle cx="425.4" cy="118.3" r="1.3" fill="#111170"/>
<circle cx="337.5" cy="119.7" r="1.3" fill="#111170"/>
<circle cx="296.8" cy="121.6" r="1.3" fill="#111170"/>
<circle cx="461.7" cy="118.6" r="1.3" fill="#111170"/>
<circle cx="319.1" cy="119.7" r="1.3" fill="#111170"/>
<circle cx="424.6" cy="118.7" r="1.3" fill="#111170"/>
<circle cx="389.1" cy="118.6" r="1.3" fill="#111170"/>
<circle cx="388.3" cy="121.3" r="1.3" fill="#111170"/>
<circle cx="334.3" cy="121.5" r="1.3" fill="#55555e"/>
<circle cx="433.4" cy="119.1" r="1.3" fill="#111170"/>
<circle cx="343.8" cy="118.4" r="1.3" fill="#111170"/>
<circle cx="390.7" cy="119.6" r="1.3" fill="#111170"/>
<circle cx="362.6" cy="118.2" r="1.3" fill="#111170"/>
<circle cx="418.4" cy="120.0" r="1.3" fill="#111170"/>
<circle cx="425.5" cy="121.5" r="1.3" fill="#55555e"/>
<circle cx="430.8" cy="119.6" r="1.3" fill="#111170"/>
<circle cx="373.5" cy="121.5" r="1.3" fill="#111170"/>
<circle cx="367.0" cy="119.6" r="1.3" fill="#111170"/>
<circle cx="484.7" cy="118.2" r="1.3" fill="#111170"/>
<circle cx="470.8" cy="119.1" r="1.3" fill="#111170"/>
<circle cx="365.4" cy="119.0" r="1.3" fill="#111170"/>
<circle cx="315.3" cy="121.1" r="1.3" fill="#111170"/>
<circle cx="467.4" cy="118.4" r="1.3" fill="#111170"/>
<circle cx="355.3" cy="120.4" r="1.3" fill="#111170"/>
<circle cx="353.6" cy="121.5" r="1.3" fill="#111170"/>
<circle cx="436.3" cy="121.1" r="1.3" fill="#111170"/>
<circle cx="406.7" cy="121.6" r="1.3" fill="#111170"/>
<circle cx="413.9" cy="120.7" r="1.3" fill="#111170"/>
<circle cx="429.7" cy="119.5" r="1.3" fill="#111170"/>
<circle cx="410.7" cy="120.5" r="1.3" fill="#111170"/>
<circle cx="413.7" cy="120.0" r="1.3" fill="#111170"/>
<circle cx="410.6" cy="119.1" r="1.3" fill="#55555e"/>
<circle cx="383.9" cy="120.7" r="1.3" fill="#111170"/>
<circle cx="384.5" cy="119.0" r="1.3" fill="#111170"/>
<circle cx="471.0" cy="120.0" r="1.3" fill="#111170"/>
<circle cx="394.3" cy="121.0" r="1.3" fill="#111170"/>
<circle cx="326.1" cy="121.0" r="1.3" fill="#111170"/>
<circle cx="416.0" cy="121.0" r="1.3" fill="#55555e"/>
<circle cx="459.6" cy="118.3" r="1.3" fill="#111170"/>
<circle cx="452.8" cy="121.0" r="1.3" fill="#111170"/>
<circle cx="322.5" cy="119.1" r="1.3" fill="#111170"/>
<circle cx="361.5" cy="120.9" r="1.3" fill="#111170"/>
<circle cx="379.9" cy="118.5" r="1.3" fill="#111170"/>
<circle cx="484.4" cy="120.6" r="1.3" fill="#111170"/>
<circle cx="384.8" cy="120.9" r="1.3" fill="#111170"/>
<circle cx="321.8" cy="120.5" r="1.3" fill="#111170"/>
<circle cx="393.0" cy="119.0" r="1.3" fill="#111170"/>
<circle cx="358.3" cy="119.5" r="1.3" fill="#111170"/>
<circle cx="331.6" cy="117.6" r="1.3" fill="#111170"/>
<circle cx="327.3" cy="117.9" r="1.3" fill="#111170"/>
<circle cx="355.2" cy="117.0" r="1.3" fill="#111170"/>
<circle cx="310.5" cy="117.8" r="1.3" fill="#8c8c8c"/>
<circle cx="331.7" cy="117.3" r="1.3" fill="#111170"/>
<circle cx="411.6" cy="117.2" r="1.3" fill="#111170"/>
<circle cx="378.0" cy="117.2" r="1.3" fill="#111170"/>
<circle cx="349.7" cy="117.3" r="1.3" fill="#111170"/>
<circle cx="448.7" cy="117.2" r="1.3" fill="#111170"/>
<circle cx="404.1" cy="118.3" r="1.3" fill="#111170"/>
<circle cx="479.5" cy="117.9" r="1.3" fill="#111170"/>
<circle cx="420.8" cy="117.2" r="1.3" fill="#111170"/>
<circle cx="438.2" cy="117.3" r="1.3" fill="#111170"/>
<circle cx="388.3" cy="118.3" r="1.3" fill="#111170"/>
<circle cx="297.9" cy="117.7" r="1.3" fill="#111170"/>
<circle cx="381.7" cy="118.2" r="1.3" fill="#111170"/>
<circle cx="383.9" cy="118.3" r="1.3" fill="#111170"/>
<circle cx="387.3" cy="117.5" r="1.3" fill="#111170"/>
<circle cx="421.7" cy="118.0" r="1.3" fill="#111170"/>
<circle cx="300.8" cy="117.9" r="1.3" fill="#111170"/>
<circle cx="440.7" cy="118.0" r="1.3" fill="#111170"/>
<circle cx="335.4" cy="116.7" r="1.3" fill="#111170"/>
<circle cx="312.5" cy="116.7" r="1.3" fill="#111170"/>
<circle cx="401.4" cy="116.6" r="1.3" fill="#111170"/>
<circle cx="429.5" cy="117.5" r="1.3" fill="#111170"/>
<circle cx="425.7" cy="117.3" r="1.3" fill="#111170"/>
<circle cx="484.6" cy="118.1" r="1.3" fill="#8c8c8c"/>
<circle cx="320.9" cy="117.2" r="1.3" fill="#111170"/>
<circle cx="294.2" cy="118.5" r="1.3" fill="#111170"/>
<circle cx="343.4" cy="117.1" r="1.3" fill="#111170"/>
<circle cx="457.9" cy="117.6" r="1.3" fill="#111170"/>
<circle cx="373.7" cy="116.6" r="1.3" fill="#111170"/>
<circle cx="459.4" cy="118.1" r="1.3" fill="#8c8c8c"/>
<circle cx="342.4" cy="116.9" r="1.3" fill="#111170"/>
<circle cx="396.1" cy="117.2" r="1.3" fill="#111170"/>
<circle cx="386.9" cy="117.7" r="1.3" fill="#111170"/>
<circle cx="446.9" cy="116.9" r="1.3" fill="#8c8c8c"/>
<circle cx="399.8" cy="116.6" r="1.3" fill="#111170"/>
<circle cx="395.4" cy="117.3" r="1.3" fill="#111170"/>
<circle cx="355.1" cy="117.0" r="1.3" fill="#111170"/>
<circle cx="368.7" cy="115.7" r="1.45" fill="#8c8c8c"/>
<circle cx="411.7" cy="114.5" r="1.45" fill="#8c8c8c"/>
<circle cx="390.6" cy="116.5" r="1.45" fill="#111170"/>
<circle cx="389.0" cy="115.4" r="1.45" fill="#111170"/>
<circle cx="450.4" cy="112.8" r="1.45" fill="#111170"/>
<circle cx="352.8" cy="116.7" r="1.45" fill="#111170"/>
<circle cx="441.5" cy="114.7" r="1.45" fill="#111170"/>
<circle cx="423.5" cy="113.8" r="1.45" fill="#111170"/>
<circle cx="446.9" cy="113.2" r="1.45" fill="#8c8c8c"/>
<circle cx="356.6" cy="113.0" r="1.45" fill="#111170"/>
<circle cx="439.1" cy="116.8" r="1.45" fill="#111170"/>
<circle cx="421.2" cy="113.7" r="1.45" fill="#8c8c8c"/>
<circle cx="425.1" cy="113.2" r="1.45" fill="#111170"/>
<circle cx="426.5" cy="112.7" r="1.45" fill="#8c8c8c"/>
<circle cx="369.0" cy="113.5" r="1.45" fill="#111170"/>
<circle cx="372.6" cy="115.0" r="1.45" fill="#111170"/>
<circle cx="457.4" cy="114.0" r="1.45" fill="#8c8c8c"/>
<circle cx="348.7" cy="116.1" r="1.45" fill="#8c8c8c"/>
<circle cx="383.0" cy="112.6" r="1.45" fill="#111170"/>
<circle cx="418.6" cy="113.5" r="1.45" fill="#111170"/>
<circle cx="340.4" cy="114.6" r="1.45" fill="#111170"/>
<circle cx="388.5" cy="115.6" r="1.45" fill="#111170"/>
<circle cx="445.5" cy="113.0" r="1.45" fill="#8c8c8c"/>
<circle cx="469.4" cy="116.7" r="1.45" fill="#111170"/>
<circle cx="368.6" cy="114.1" r="1.45" fill="#8c8c8c"/>
<circle cx="398.0" cy="116.7" r="1.45" fill="#111170"/>
<circle cx="396.3" cy="116.4" r="1.45" fill="#111170"/>
<circle cx="404.3" cy="112.9" r="1.45" fill="#111170"/>
<circle cx="365.8" cy="116.5" r="1.45" fill="#8c8c8c"/>
<circle cx="359.5" cy="116.7" r="1.45" fill="#111170"/>
<circle cx="412.6" cy="116.9" r="1.45" fill="#111170"/>
<circle cx="462.0" cy="115.5" r="1.45" fill="#111170"/>
<circle cx="374.6" cy="114.5" r="1.45" fill="#111170"/>
<circle cx="433.2" cy="113.3" r="1.45" fill="#8c8c8c"/>
<circle cx="369.6" cy="112.8" r="1.45" fill="#111170"/>
<circle cx="340.7" cy="115.0" r="1.45" fill="#8c8c8c"/>
<circle cx="412.2" cy="114.6" r="1.45" fill="#111170"/>
<circle cx="400.4" cy="112.9" r="1.45" fill="#111170"/>
<circle cx="345.9" cy="115.1" r="1.45" fill="#111170"/>
<circle cx="380.6" cy="115.5" r="1.45" fill="#111170"/>
<circle cx="351.3" cy="116.7" r="1.45" fill="#111170"/>
<circle cx="447.4" cy="116.4" r="1.45" fill="#111170"/>
<circle cx="348.3" cy="112.9" r="1.45" fill="#8c8c8c"/>
<circle cx="343.7" cy="114.7" r="1.45" fill="#111170"/>
<circle cx="343.8" cy="114.6" r="1.45" fill="#111170"/>
<circle cx="403.6" cy="114.8" r="1.45" fill="#111170"/>
<circle cx="355.3" cy="114.3" r="1.45" fill="#111170"/>
<circle cx="345.2" cy="113.6" r="1.45" fill="#8c8c8c"/>
<circle cx="398.8" cy="116.5" r="1.45" fill="#111170"/>
<circle cx="461.9" cy="114.7" r="1.45" fill="#8c8c8c"/>
<circle cx="408.6" cy="115.6" r="1.45" fill="#111170"/>
<circle cx="434.3" cy="113.2" r="1.45" fill="#111170"/>
<circle cx="331.4" cy="114.3" r="1.45" fill="#111170"/>
<circle cx="368.7" cy="116.5" r="1.45" fill="#111170"/>
<circle cx="409.7" cy="113.6" r="1.45" fill="#111170"/>
<circle cx="439.1" cy="115.7" r="1.45" fill="#111170"/>
<circle cx="362.1" cy="115.2" r="1.45" fill="#8c8c8c"/>
<circle cx="332.9" cy="115.3" r="1.45" fill="#111170"/>
<circle cx="443.5" cy="114.0" r="1.45" fill="#8c8c8c"/>
<circle cx="393.0" cy="116.6" r="1.45" fill="#111170"/>
<circle cx="461.5" cy="114.4" r="1.45" fill="#111170"/>
<circle cx="339.6" cy="113.6" r="1.45" fill="#111170"/>
<circle cx="424.1" cy="113.2" r="1.45" fill="#111170"/>
<circle cx="347.1" cy="113.4" r="1.45" fill="#111170"/>
<circle cx="374.3" cy="116.9" r="1.45" fill="#8c8c8c"/>
<circle cx="440.2" cy="114.7" r="1.45" fill="#111170"/>
<circle cx="438.4" cy="116.6" r="1.45" fill="#8c8c8c"/>
<circle cx="418.0" cy="113.4" r="1.45" fill="#111170"/>
<circle cx="447.9" cy="116.0" r="1.45" fill="#111170"/>
<circle cx="429.6" cy="114.1" r="1.45" fill="#111170"/>
<circle cx="465.1" cy="115.5" r="1.45" fill="#111170"/>
<circle cx="346.3" cy="116.2" r="1.45" fill="#8c8c8c"/>
<circle cx="456.4" cy="115.9" r="1.45" fill="#8c8c8c"/>
<circle cx="441.7" cy="115.2" r="1.45" fill="#111170"/>
<circle cx="445.0" cy="116.0" r="1.45" fill="#8c8c8c"/>
<circle cx="369.8" cy="116.8" r="1.45" fill="#111170"/>
<circle cx="462.3" cy="113.0" r="1.45" fill="#8c8c8c"/>
<circle cx="439.6" cy="113.6" r="1.45" fill="#8c8c8c"/>
<circle cx="360.2" cy="113.4" r="1.45" fill="#111170"/>
<circle cx="360.8" cy="114.7" r="1.45" fill="#8c8c8c"/>
<circle cx="327.7" cy="36.2" r="1.45" fill="#111170"/>
<circle cx="329.5" cy="35.5" r="1.45" fill="#111170"/>
<circle cx="340.2" cy="33.7" r="1.45" fill="#111170"/>
<circle cx="340.4" cy="36.7" r="1.45" fill="#111170"/>
<circle cx="342.5" cy="33.0" r="1.45" fill="#111170"/>
<circle cx="344.5" cy="33.5" r="1.45" fill="#111170"/>
<circle cx="346.5" cy="34.0" r="1.45" fill="#111170"/>
<circle cx="352.3" cy="33.7" r="1.45" fill="#111170"/>
<circle cx="353.0" cy="32.5" r="1.45" fill="#111170"/>
<circle cx="354.6" cy="33.0" r="1.45" fill="#111170"/>
<circle cx="357.0" cy="33.0" r="1.45" fill="#111170"/>
<circle cx="359.5" cy="33.0" r="1.45" fill="#111170"/>
<circle cx="362.0" cy="33.0" r="1.45" fill="#111170"/>
<circle cx="365.2" cy="32.7" r="1.45" fill="#111170"/>
<circle cx="366.5" cy="32.7" r="1.45" fill="#111170"/>
<circle cx="373.5" cy="33.3" r="1.45" fill="#111170"/>
<circle cx="375.5" cy="33.0" r="1.45" fill="#111170"/>
<circle cx="378.0" cy="33.0" r="1.45" fill="#111170"/>
<circle cx="380.0" cy="33.0" r="1.45" fill="#111170"/>
<circle cx="382.0" cy="33.0" r="1.45" fill="#111170"/>
<circle cx="384.0" cy="32.7" r="1.45" fill="#111170"/>
<circle cx="386.0" cy="33.0" r="1.45" fill="#111170"/>
<circle cx="388.0" cy="32.5" r="1.45" fill="#111170"/>
<circle cx="390.0" cy="33.5" r="1.45" fill="#111170"/>
<circle cx="398.8" cy="35.6" r="1.45" fill="#111170"/>
<circle cx="400.8" cy="33.0" r="1.45" fill="#111170"/>
<circle cx="402.5" cy="32.0" r="1.45" fill="#111170"/>
<circle cx="404.0" cy="31.5" r="1.45" fill="#111170"/>
<circle cx="352.3" cy="40.0" r="1.45" fill="#111170"/>
<circle cx="384.4" cy="47.7" r="1.45" fill="#111170"/>
<circle cx="393.7" cy="46.5" r="1.45" fill="#111170"/>
<circle cx="412.3" cy="44.2" r="1.45" fill="#111170"/>
<circle cx="400.8" cy="55.8" r="1.45" fill="#111170"/>
<circle cx="404.6" cy="57.7" r="1.45" fill="#111170"/>
<circle cx="385.0" cy="47.5" r="1.45" fill="#111170"/>
<circle cx="414.0" cy="69.1" r="1.45" fill="#111170"/>
<circle cx="414.0" cy="73.2" r="1.45" fill="#111170"/>
<circle cx="416.5" cy="66.6" r="1.45" fill="#111170"/>
<circle cx="418.5" cy="66.6" r="1.45" fill="#111170"/>
<circle cx="420.0" cy="67.0" r="1.45" fill="#111170"/>
<circle cx="426.4" cy="66.6" r="1.45" fill="#111170"/>
<circle cx="441.3" cy="65.0" r="1.45" fill="#111170"/>
<circle cx="445.0" cy="79.5" r="1.45" fill="#111170"/>
<circle cx="425.6" cy="83.6" r="1.45" fill="#111170"/>
<circle cx="427.0" cy="84.5" r="1.45" fill="#111170"/>
<circle cx="450.0" cy="86.4" r="1.45" fill="#111170"/>
<circle cx="450.0" cy="88.0" r="1.45" fill="#111170"/>
<circle cx="404.1" cy="88.1" r="1.45" fill="#111170"/>
<circle cx="409.1" cy="92.7" r="1.45" fill="#111170"/>
<circle cx="410.0" cy="92.7" r="1.45" fill="#111170"/>
<circle cx="415.7" cy="95.5" r="1.45" fill="#111170"/>
<circle cx="416.0" cy="97.0" r="1.45" fill="#111170"/>
<circle cx="407.4" cy="96.7" r="1.45" fill="#111170"/>
<circle cx="420.7" cy="97.2" r="1.45" fill="#111170"/>
<circle cx="422.5" cy="97.2" r="1.45" fill="#111170"/>
<circle cx="431.4" cy="97.7" r="1.45" fill="#111170"/>
<circle cx="436.0" cy="97.2" r="1.45" fill="#111170"/>
<circle cx="471.0" cy="96.7" r="1.45" fill="#111170"/>
<circle cx="471.5" cy="99.0" r="1.45" fill="#111170"/>
<circle cx="478.5" cy="100.5" r="1.45" fill="#111170"/>
<circle cx="442.1" cy="102.1" r="1.45" fill="#111170"/>
<circle cx="415.0" cy="105.0" r="1.45" fill="#111170"/>
<circle cx="418.0" cy="107.0" r="1.45" fill="#111170"/>
<circle cx="425.0" cy="108.0" r="1.45" fill="#111170"/>
<circle cx="430.0" cy="109.0" r="1.45" fill="#111170"/>
<circle cx="436.0" cy="110.0" r="1.45" fill="#111170"/>
<circle cx="445.0" cy="108.0" r="1.45" fill="#111170"/>
<circle cx="452.0" cy="109.0" r="1.45" fill="#111170"/>
<circle cx="455.0" cy="110.0" r="1.45" fill="#111170"/>
<circle cx="421.0" cy="53.2" r="1.45" fill="#111170"/>
<circle cx="434.0" cy="53.0" r="1.45" fill="#111170"/>
<circle cx="420.6" cy="59.0" r="1.45" fill="#111170"/>
<circle cx="326.6" cy="71.6" r="1.45" fill="#111170"/>
<circle cx="332.4" cy="66.6" r="1.45" fill="#111170"/>
<circle cx="334.5" cy="67.9" r="1.45" fill="#111170"/>
<circle cx="333.6" cy="65.2" r="1.45" fill="#111170"/>
<circle cx="404.3" cy="88.1" r="1.45" fill="#111170"/>
<circle cx="400.2" cy="90.6" r="1.45" fill="#111170"/>
<circle cx="306.4" cy="110.8" r="1.45" fill="#111170"/>
<circle cx="309.1" cy="115.9" r="1.45" fill="#111170"/>
<circle cx="296.0" cy="114.5" r="1.45" fill="#111170"/>
<circle cx="417.4" cy="89.8" r="1.45" fill="#8c8c8c"/>
<circle cx="430.2" cy="91.1" r="1.45" fill="#8c8c8c"/>
<circle cx="427.3" cy="97.2" r="1.45" fill="#8c8c8c"/>
<circle cx="428.4" cy="103.3" r="1.45" fill="#8c8c8c"/>
<circle cx="334.9" cy="88.9" r="1.45" fill="#8c8c8c"/>
<circle cx="336.5" cy="91.0" r="1.45" fill="#8c8c8c"/>
<circle cx="340.5" cy="90.5" r="1.45" fill="#8c8c8c"/>
<circle cx="362.0" cy="88.0" r="1.45" fill="#8c8c8c"/>
<circle cx="363.5" cy="88.0" r="1.45" fill="#8c8c8c"/>
<circle cx="373.3" cy="89.8" r="1.45" fill="#8c8c8c"/>
<circle cx="378.5" cy="92.5" r="1.45" fill="#8c8c8c"/>
<circle cx="391.0" cy="89.5" r="1.45" fill="#8c8c8c"/>
<circle cx="351.0" cy="93.0" r="1.45" fill="#8c8c8c"/>
<circle cx="358.5" cy="93.5" r="1.45" fill="#8c8c8c"/>
<circle cx="353.0" cy="68.3" r="1.45" fill="#8c8c8c"/>
<circle cx="400.2" cy="64.1" r="1.45" fill="#8c8c8c"/>
<circle cx="398.5" cy="70.3" r="1.45" fill="#8c8c8c"/>
<circle cx="294.0" cy="111.5" r="1.45" fill="#8c8c8c"/>
<circle cx="345.0" cy="62.0" r="1.45" fill="#8c8c8c"/>
<circle cx="365.0" cy="60.0" r="1.45" fill="#8c8c8c"/>
<circle cx="370.0" cy="80.0" r="1.45" fill="#8c8c8c"/>
<circle cx="346.6" cy="76.3" r="1.45" fill="#111170"/>
<circle cx="348.7" cy="76.4" r="1.45" fill="#111170"/>
<circle cx="350.8" cy="76.4" r="1.45" fill="#111170"/>
<circle cx="351.8" cy="76.2" r="1.45" fill="#111170"/>
<circle cx="354.0" cy="76.1" r="1.45" fill="#111170"/>
<circle cx="356.5" cy="75.4" r="1.45" fill="#111170"/>
<circle cx="357.6" cy="75.5" r="1.45" fill="#111170"/>
<circle cx="360.0" cy="76.1" r="1.45" fill="#111170"/>
<circle cx="361.9" cy="75.7" r="1.45" fill="#111170"/>
<circle cx="364.4" cy="76.1" r="1.45" fill="#111170"/>
<circle cx="365.5" cy="75.7" r="1.45" fill="#111170"/>
<circle cx="367.9" cy="76.2" r="1.45" fill="#111170"/>
<circle cx="369.5" cy="76.2" r="1.45" fill="#111170"/>
<circle cx="372.2" cy="75.6" r="1.45" fill="#111170"/>
<circle cx="374.4" cy="75.8" r="1.45" fill="#111170"/>
<circle cx="376.2" cy="76.1" r="1.45" fill="#111170"/>
<circle cx="377.6" cy="76.0" r="1.45" fill="#111170"/>
<circle cx="379.7" cy="76.6" r="1.45" fill="#111170"/>
<circle cx="382.1" cy="75.6" r="1.45" fill="#111170"/>
<circle cx="383.0" cy="75.6" r="1.45" fill="#111170"/>
<circle cx="385.5" cy="76.4" r="1.45" fill="#111170"/>
<circle cx="387.4" cy="75.5" r="1.45" fill="#111170"/>
<circle cx="389.9" cy="76.0" r="1.45" fill="#111170"/>
<circle cx="392.0" cy="76.5" r="1.45" fill="#111170"/>
<circle cx="392.9" cy="76.1" r="1.45" fill="#111170"/>
<circle cx="395.9" cy="75.8" r="1.45" fill="#111170"/>
<circle cx="397.5" cy="75.9" r="1.45" fill="#111170"/>
<circle cx="399.5" cy="76.5" r="1.45" fill="#111170"/>
<circle cx="347.1" cy="83.7" r="1.45" fill="#111170"/>
<circle cx="350.2" cy="83.3" r="1.45" fill="#111170"/>
<circle cx="352.0" cy="83.4" r="1.45" fill="#111170"/>
<circle cx="354.8" cy="83.4" r="1.45" fill="#111170"/>
<circle cx="356.6" cy="82.7" r="1.45" fill="#111170"/>
<circle cx="359.8" cy="82.7" r="1.45" fill="#111170"/>
<circle cx="361.7" cy="82.6" r="1.45" fill="#111170"/>
<circle cx="364.4" cy="83.3" r="1.45" fill="#111170"/>
<circle cx="366.8" cy="82.8" r="1.45" fill="#111170"/>
<circle cx="368.7" cy="83.7" r="1.45" fill="#111170"/>
<circle cx="371.6" cy="83.3" r="1.45" fill="#111170"/>
<circle cx="374.2" cy="83.4" r="1.45" fill="#111170"/>
<circle cx="375.7" cy="82.7" r="1.45" fill="#111170"/>
<circle cx="378.8" cy="83.5" r="1.45" fill="#111170"/>
<circle cx="380.2" cy="83.1" r="1.45" fill="#111170"/>
<circle cx="382.7" cy="83.4" r="1.45" fill="#111170"/>
<circle cx="385.3" cy="82.6" r="1.45" fill="#111170"/>
<circle cx="387.8" cy="83.7" r="1.45" fill="#111170"/>
<circle cx="389.9" cy="82.9" r="1.45" fill="#111170"/>
<circle cx="392.3" cy="82.9" r="1.45" fill="#111170"/>
<circle cx="326.5" cy="95.2" r="1.45" fill="#111170"/>
<circle cx="329.1" cy="96.1" r="1.45" fill="#111170"/>
<circle cx="331.0" cy="96.0" r="1.45" fill="#111170"/>
<circle cx="334.1" cy="95.7" r="1.45" fill="#111170"/>
<circle cx="335.6" cy="95.1" r="1.45" fill="#111170"/>
<circle cx="338.1" cy="95.6" r="1.45" fill="#111170"/>
<circle cx="340.7" cy="95.2" r="1.45" fill="#111170"/>
<circle cx="343.1" cy="95.5" r="1.45" fill="#111170"/>
<circle cx="345.0" cy="95.2" r="1.45" fill="#111170"/>
<circle cx="346.4" cy="95.9" r="1.45" fill="#111170"/>
<circle cx="346.9" cy="100.2" r="1.45" fill="#111170"/>
<circle cx="348.4" cy="99.2" r="1.45" fill="#111170"/>
<circle cx="350.5" cy="99.9" r="1.45" fill="#111170"/>
<circle cx="352.1" cy="99.2" r="1.45" fill="#111170"/>
<circle cx="353.6" cy="100.3" r="1.45" fill="#111170"/>
<circle cx="355.2" cy="100.0" r="1.45" fill="#111170"/>
<circle cx="357.1" cy="100.0" r="1.45" fill="#111170"/>
<circle cx="358.1" cy="100.1" r="1.45" fill="#111170"/>
<circle cx="359.5" cy="100.1" r="1.45" fill="#111170"/>
<circle cx="361.5" cy="99.9" r="1.45" fill="#111170"/>
<circle cx="362.7" cy="99.5" r="1.45" fill="#111170"/>
<circle cx="364.6" cy="99.7" r="1.45" fill="#111170"/>
<circle cx="366.4" cy="99.8" r="1.45" fill="#111170"/>
<circle cx="367.9" cy="99.4" r="1.45" fill="#111170"/>
<circle cx="369.8" cy="100.1" r="1.45" fill="#111170"/>
<circle cx="371.3" cy="100.0" r="1.45" fill="#111170"/>
<circle cx="373.1" cy="100.2" r="1.45" fill="#111170"/>
<circle cx="374.6" cy="99.9" r="1.45" fill="#111170"/>
<circle cx="375.6" cy="99.9" r="1.45" fill="#111170"/>
<circle cx="377.6" cy="99.4" r="1.45" fill="#111170"/>
<circle cx="379.2" cy="100.1" r="1.45" fill="#111170"/>
<circle cx="380.5" cy="99.4" r="1.45" fill="#111170"/>
<circle cx="382.5" cy="100.3" r="1.45" fill="#111170"/>
<circle cx="383.8" cy="99.9" r="1.45" fill="#111170"/>
<circle cx="385.9" cy="99.5" r="1.45" fill="#111170"/>
<circle cx="387.3" cy="99.3" r="1.45" fill="#111170"/>
<circle cx="388.3" cy="99.6" r="1.45" fill="#111170"/>
<circle cx="390.7" cy="99.1" r="1.45" fill="#111170"/>
<circle cx="391.6" cy="99.4" r="1.45" fill="#111170"/>
<circle cx="393.4" cy="99.5" r="1.45" fill="#111170"/>
<circle cx="394.9" cy="100.1" r="1.45" fill="#111170"/>
<circle cx="397.1" cy="100.1" r="1.45" fill="#111170"/>
<circle cx="397.9" cy="100.0" r="1.45" fill="#111170"/>
<circle cx="400.0" cy="99.6" r="1.45" fill="#111170"/>
<circle cx="327.2" cy="103.4" r="1.45" fill="#111170"/>
<circle cx="329.7" cy="103.0" r="1.45" fill="#111170"/>
<circle cx="332.4" cy="103.6" r="1.45" fill="#111170"/>
<circle cx="336.3" cy="103.7" r="1.45" fill="#111170"/>
<circle cx="339.5" cy="102.3" r="1.45" fill="#111170"/>
<circle cx="341.0" cy="102.9" r="1.45" fill="#111170"/>
<circle cx="344.9" cy="102.9" r="1.45" fill="#111170"/>
<circle cx="346.9" cy="102.8" r="1.45" fill="#8c8c8c"/>
<circle cx="349.8" cy="103.4" r="1.45" fill="#111170"/>
<circle cx="353.2" cy="102.5" r="1.45" fill="#111170"/>
<circle cx="355.7" cy="102.6" r="1.45" fill="#111170"/>
<circle cx="359.5" cy="103.8" r="1.45" fill="#111170"/>
<circle cx="362.8" cy="103.7" r="1.45" fill="#111170"/>
<circle cx="365.3" cy="102.3" r="1.45" fill="#8c8c8c"/>
<circle cx="367.0" cy="103.6" r="1.45" fill="#111170"/>
<circle cx="371.0" cy="102.6" r="1.45" fill="#111170"/>
<circle cx="373.1" cy="103.2" r="1.45" fill="#111170"/>
<circle cx="376.3" cy="102.3" r="1.45" fill="#8c8c8c"/>
<circle cx="379.3" cy="103.6" r="1.45" fill="#111170"/>
<circle cx="382.4" cy="102.4" r="1.45" fill="#8c8c8c"/>
<circle cx="384.8" cy="103.4" r="1.45" fill="#111170"/>
<circle cx="389.2" cy="103.7" r="1.45" fill="#111170"/>
<circle cx="391.2" cy="103.5" r="1.45" fill="#8c8c8c"/>
<circle cx="393.5" cy="103.1" r="1.45" fill="#111170"/>
<circle cx="396.6" cy="102.6" r="1.45" fill="#8c8c8c"/>
<circle cx="400.7" cy="103.3" r="1.45" fill="#111170"/>
<circle cx="333.7" cy="109.2" r="1.45" fill="#111170"/>
<circle cx="335.3" cy="109.7" r="1.45" fill="#111170"/>
<circle cx="337.4" cy="108.6" r="1.45" fill="#111170"/>
<circle cx="340.6" cy="109.1" r="1.45" fill="#8c8c8c"/>
<circle cx="343.4" cy="109.7" r="1.45" fill="#111170"/>
<circle cx="344.7" cy="109.8" r="1.45" fill="#111170"/>
<circle cx="347.3" cy="109.1" r="1.45" fill="#111170"/>
<circle cx="350.9" cy="109.3" r="1.45" fill="#111170"/>
<circle cx="352.4" cy="108.9" r="1.45" fill="#111170"/>
<circle cx="355.2" cy="108.7" r="1.45" fill="#111170"/>
<circle cx="357.3" cy="108.9" r="1.45" fill="#111170"/>
<circle cx="360.4" cy="109.5" r="1.45" fill="#111170"/>
<circle cx="362.7" cy="108.7" r="1.45" fill="#111170"/>
<circle cx="364.6" cy="109.3" r="1.45" fill="#111170"/>
<circle cx="368.0" cy="109.6" r="1.45" fill="#111170"/>
<circle cx="370.4" cy="109.6" r="1.45" fill="#111170"/>
<circle cx="372.2" cy="109.9" r="1.45" fill="#111170"/>
<circle cx="374.5" cy="108.9" r="1.45" fill="#111170"/>
<circle cx="377.3" cy="109.1" r="1.45" fill="#111170"/>
<circle cx="380.6" cy="109.5" r="1.45" fill="#111170"/>
<circle cx="381.9" cy="108.7" r="1.45" fill="#111170"/>
<circle cx="385.6" cy="108.7" r="1.45" fill="#8c8c8c"/>
<circle cx="387.2" cy="109.9" r="1.45" fill="#111170"/>
<circle cx="390.3" cy="109.9" r="1.45" fill="#111170"/>
<circle cx="393.2" cy="109.0" r="1.45" fill="#111170"/>
<circle cx="394.3" cy="109.7" r="1.45" fill="#111170"/>
<circle cx="398.2" cy="109.6" r="1.45" fill="#111170"/>
<circle cx="400.5" cy="108.8" r="1.45" fill="#111170"/>
<circle cx="326.4" cy="99.6" r="1.45" fill="#111170"/>
<circle cx="330.2" cy="96.5" r="1.45" fill="#111170"/>
<circle cx="332.2" cy="99.8" r="1.45" fill="#111170"/>
<circle cx="334.9" cy="98.9" r="1.45" fill="#111170"/>
<circle cx="336.6" cy="96.7" r="1.45" fill="#111170"/>
<circle cx="339.5" cy="98.1" r="1.45" fill="#111170"/>
<circle cx="342.8" cy="96.6" r="1.45" fill="#111170"/>
<circle cx="345.5" cy="98.3" r="1.45" fill="#111170"/>
<circle cx="327.2" cy="104.8" r="1.45" fill="#111170"/>
<circle cx="329.0" cy="107.9" r="1.45" fill="#111170"/>
<circle cx="332.0" cy="104.4" r="1.45" fill="#111170"/>
<circle cx="335.3" cy="107.4" r="1.45" fill="#111170"/>
<circle cx="337.2" cy="105.2" r="1.45" fill="#111170"/>
<circle cx="339.5" cy="106.4" r="1.45" fill="#111170"/>
<path d="M390.7 111 L392.3 112.6 L390.7 114.2 L389.1 112.6Z" fill="#7a2fc0"/>
<circle cx="425.6" cy="118.8" r="1.25" fill="#86c2ea" stroke="#4f8cc4" stroke-width="0.5"/>
<circle cx="449.6" cy="120.0" r="1.25" fill="#86c2ea" stroke="#4f8cc4" stroke-width="0.5"/>
<circle cx="466.1" cy="120.8" r="1.25" fill="#86c2ea" stroke="#4f8cc4" stroke-width="0.5"/>
<circle cx="369.7" cy="118.5" r="1.25" fill="#86c2ea" stroke="#4f8cc4" stroke-width="0.5"/>
<circle cx="378.0" cy="119.0" r="1.25" fill="#86c2ea" stroke="#4f8cc4" stroke-width="0.5"/>
<circle cx="436.7" cy="118.5" r="1.45" fill="#1ed21e"/>
<rect x="291.50" y="18.50" width="194.00" height="107.80" fill="none" stroke="#000" stroke-width="1.1"/>
<line x1="288.80" y1="121.70" x2="291.50" y2="121.70" stroke="#000" stroke-width="0.9"/>
<text x="286.40" y="124.90" font-size="9.2" text-anchor="end" fill="#222" textLength="4.2" lengthAdjust="spacingAndGlyphs">0</text>
<line x1="288.80" y1="104.44" x2="291.50" y2="104.44" stroke="#000" stroke-width="0.9"/>
<text x="286.40" y="107.64" font-size="9.2" text-anchor="end" fill="#222" textLength="8.4" lengthAdjust="spacingAndGlyphs">20</text>
<line x1="288.80" y1="87.18" x2="291.50" y2="87.18" stroke="#000" stroke-width="0.9"/>
<text x="286.40" y="90.38" font-size="9.2" text-anchor="end" fill="#222" textLength="8.4" lengthAdjust="spacingAndGlyphs">40</text>
<line x1="288.80" y1="69.92" x2="291.50" y2="69.92" stroke="#000" stroke-width="0.9"/>
<text x="286.40" y="73.12" font-size="9.2" text-anchor="end" fill="#222" textLength="8.4" lengthAdjust="spacingAndGlyphs">60</text>
<line x1="288.80" y1="52.66" x2="291.50" y2="52.66" stroke="#000" stroke-width="0.9"/>
<text x="286.40" y="55.86" font-size="9.2" text-anchor="end" fill="#222" textLength="8.4" lengthAdjust="spacingAndGlyphs">80</text>
<line x1="288.80" y1="35.40" x2="291.50" y2="35.40" stroke="#000" stroke-width="0.9"/>
<text x="286.40" y="38.60" font-size="9.2" text-anchor="end" fill="#222" textLength="12.600000000000001" lengthAdjust="spacingAndGlyphs">100</text>
<line x1="485.50" y1="121.00" x2="488.60" y2="121.00" stroke="#3f72aa" stroke-width="0.9"/>
<text x="490.60" y="124.20" font-size="9.2" text-anchor="start" fill="#3f72aa" textLength="4.4" lengthAdjust="spacingAndGlyphs">0</text>
<line x1="485.50" y1="101.44" x2="488.60" y2="101.44" stroke="#3f72aa" stroke-width="0.9"/>
<text x="490.60" y="104.64" font-size="9.2" text-anchor="start" fill="#3f72aa" textLength="8.8" lengthAdjust="spacingAndGlyphs">20</text>
<line x1="485.50" y1="81.88" x2="488.60" y2="81.88" stroke="#3f72aa" stroke-width="0.9"/>
<text x="490.60" y="85.08" font-size="9.2" text-anchor="start" fill="#3f72aa" textLength="8.8" lengthAdjust="spacingAndGlyphs">40</text>
<line x1="485.50" y1="62.32" x2="488.60" y2="62.32" stroke="#3f72aa" stroke-width="0.9"/>
<text x="490.60" y="65.52" font-size="9.2" text-anchor="start" fill="#3f72aa" textLength="8.8" lengthAdjust="spacingAndGlyphs">60</text>
<line x1="485.50" y1="42.76" x2="488.60" y2="42.76" stroke="#3f72aa" stroke-width="0.9"/>
<text x="490.60" y="45.96" font-size="9.2" text-anchor="start" fill="#3f72aa" textLength="8.8" lengthAdjust="spacingAndGlyphs">80</text>
<line x1="485.50" y1="23.20" x2="488.60" y2="23.20" stroke="#3f72aa" stroke-width="0.9"/>
<text x="490.60" y="26.40" font-size="9.2" text-anchor="start" fill="#3f72aa" textLength="13.200000000000001" lengthAdjust="spacingAndGlyphs">100</text>
<text transform="translate(271.6,72) rotate(-90)" font-size="9" text-anchor="middle" fill="#222" textLength="51" lengthAdjust="spacingAndGlyphs">-log<tspan font-size="6.5" dy="1.8">10</tspan><tspan dy="-1.8">(p-value)</tspan></text>
<text transform="translate(505.6,72.6) rotate(90)" font-size="10.3" text-anchor="middle" fill="#3f72aa" textLength="95" lengthAdjust="spacingAndGlyphs">Recombination rate (cM/Mb)</text>
<rect x="456.00" y="21.50" width="27.00" height="45.90" fill="#fff" stroke="#000" stroke-width="0.9"/>
<rect x="459.00" y="33.40" width="4.30" height="6.35" fill="#f40000" stroke="#000" stroke-width="0.5"/>
<rect x="459.00" y="39.75" width="4.30" height="6.35" fill="#f8a400" stroke="#000" stroke-width="0.5"/>
<rect x="459.00" y="46.10" width="4.30" height="6.35" fill="#00e600" stroke="#000" stroke-width="0.5"/>
<rect x="459.00" y="52.45" width="4.30" height="6.35" fill="#8ccdf6" stroke="#000" stroke-width="0.5"/>
<rect x="459.00" y="58.80" width="4.30" height="6.35" fill="#000080" stroke="#000" stroke-width="0.5"/>
<line x1="463.30" y1="39.75" x2="466.60" y2="39.75" stroke="#333" stroke-width="0.7"/>
<text x="469.60" y="42.35" font-size="7.5" text-anchor="start" fill="#222" textLength="10.3" lengthAdjust="spacingAndGlyphs">0.8</text>
<line x1="463.30" y1="46.10" x2="466.60" y2="46.10" stroke="#333" stroke-width="0.7"/>
<text x="469.60" y="48.70" font-size="7.5" text-anchor="start" fill="#222" textLength="10.3" lengthAdjust="spacingAndGlyphs">0.6</text>
<line x1="463.30" y1="52.45" x2="466.60" y2="52.45" stroke="#333" stroke-width="0.7"/>
<text x="469.60" y="55.05" font-size="7.5" text-anchor="start" fill="#222" textLength="10.3" lengthAdjust="spacingAndGlyphs">0.4</text>
<line x1="463.30" y1="58.80" x2="466.60" y2="58.80" stroke="#333" stroke-width="0.7"/>
<text x="469.60" y="61.40" font-size="7.5" text-anchor="start" fill="#222" textLength="10.3" lengthAdjust="spacingAndGlyphs">0.2</text>
<text x="466.60" y="31.90" font-size="7.8" text-anchor="start" fill="#222">r</text>
<text x="469.00" y="29.10" font-size="5.4" text-anchor="start" fill="#222">2</text>
<rect x="291.50" y="129.70" width="194.00" height="49.90" fill="none" stroke="#000" stroke-width="1.1"/>
<text x="293.90" y="136.30" font-size="6.6" text-anchor="start" fill="#333" textLength="16.900000000000034" lengthAdjust="spacingAndGlyphs" font-style="italic">PNPLA1</text>
<line x1="312.70" y1="134.10" x2="315.50" y2="134.10" stroke="#000" stroke-width="0.9"/>
<path d="M314.8 132.4 L317.0 134.1 L314.8 135.8Z" fill="#000"/>
<rect x="295.20" y="137.90" width="6.40" height="2.00" fill="#2f6aa6"/>
<line x1="320.40" y1="134.10" x2="322.70" y2="134.10" stroke="#000" stroke-width="0.9"/>
<path d="M321.1 132.4 L318.9 134.1 L321.1 135.8Z" fill="#000"/>
<text x="325.20" y="136.30" font-size="6.6" text-anchor="start" fill="#333" textLength="10.400000000000034" lengthAdjust="spacingAndGlyphs" font-style="italic">ETV7</text>
<line x1="317.90" y1="138.90" x2="332.90" y2="138.90" stroke="#2f6aa6" stroke-width="0.7"/>
<rect x="318.20" y="137.80" width="1.60" height="2.20" fill="#2f6aa6"/>
<rect x="321.20" y="137.80" width="1.60" height="2.20" fill="#2f6aa6"/>
<rect x="324.20" y="137.80" width="1.60" height="2.20" fill="#2f6aa6"/>
<rect x="327.20" y="137.80" width="1.60" height="2.20" fill="#2f6aa6"/>
<rect x="330.20" y="137.80" width="1.60" height="2.20" fill="#2f6aa6"/>
<rect x="320.00" y="137.90" width="12.00" height="2.00" fill="#2f6aa6"/>
<line x1="339.60" y1="134.10" x2="342.50" y2="134.10" stroke="#000" stroke-width="0.9"/>
<path d="M340.3 132.4 L338.1 134.1 L340.3 135.8Z" fill="#000"/>
<text x="344.50" y="136.30" font-size="6.6" text-anchor="start" fill="#333" textLength="10.899999999999977" lengthAdjust="spacingAndGlyphs" font-style="italic">PXT1</text>
<line x1="335.20" y1="138.90" x2="352.50" y2="138.90" stroke="#2f6aa6" stroke-width="0.7"/>
<rect x="335.20" y="137.80" width="1.60" height="2.20" fill="#2f6aa6"/>
<rect x="339.20" y="137.80" width="1.60" height="2.20" fill="#2f6aa6"/>
<rect x="343.20" y="137.80" width="1.60" height="2.20" fill="#2f6aa6"/>
<rect x="347.20" y="137.80" width="1.60" height="2.20" fill="#2f6aa6"/>
<rect x="351.20" y="137.80" width="1.60" height="2.20" fill="#2f6aa6"/>
<line x1="379.00" y1="134.10" x2="381.40" y2="134.10" stroke="#000" stroke-width="0.9"/>
<path d="M379.7 132.4 L377.5 134.1 L379.7 135.8Z" fill="#000"/>
<text x="382.90" y="136.30" font-size="6.6" text-anchor="start" fill="#333" textLength="14.300000000000011" lengthAdjust="spacingAndGlyphs" font-style="italic">STK38</text>
<line x1="377.00" y1="138.90" x2="400.40" y2="138.90" stroke="#2f6aa6" stroke-width="0.7"/>
<rect x="377.20" y="137.80" width="1.60" height="2.20" fill="#2f6aa6"/>
<rect x="380.20" y="137.80" width="1.60" height="2.20" fill="#2f6aa6"/>
<rect x="383.20" y="137.80" width="1.60" height="2.20" fill="#2f6aa6"/>
<rect x="387.20" y="137.80" width="1.60" height="2.20" fill="#2f6aa6"/>
<rect x="391.20" y="137.80" width="1.60" height="2.20" fill="#2f6aa6"/>
<rect x="395.20" y="137.80" width="1.60" height="2.20" fill="#2f6aa6"/>
<rect x="399.20" y="137.80" width="1.60" height="2.20" fill="#2f6aa6"/>
<rect x="377.00" y="137.90" width="8.00" height="2.00" fill="#2f6aa6"/>
<text x="406.80" y="136.30" font-size="6.6" text-anchor="start" fill="#333" textLength="13.399999999999977" lengthAdjust="spacingAndGlyphs" font-style="italic">SRSF3</text>
<line x1="421.60" y1="134.10" x2="424.50" y2="134.10" stroke="#000" stroke-width="0.9"/>
<path d="M423.8 132.4 L426.0 134.1 L423.8 135.8Z" fill="#000"/>
<rect x="415.40" y="137.70" width="4.80" height="2.40" fill="#2f6aa6"/>
<line x1="432.70" y1="134.10" x2="435.60" y2="134.10" stroke="#000" stroke-width="0.9"/>
<path d="M433.4 132.4 L431.2 134.1 L433.4 135.8Z" fill="#000"/>
<text x="438.30" y="136.30" font-size="6.6" text-anchor="start" fill="#333" textLength="18.5" lengthAdjust="spacingAndGlyphs" font-style="italic">PANDAR</text>
<circle cx="453.7" cy="138.9" r="0.8" fill="#2f6aa6"/>
<line x1="464.00" y1="134.10" x2="466.80" y2="134.10" stroke="#000" stroke-width="0.9"/>
<path d="M464.7 132.4 L462.5 134.1 L464.7 135.8Z" fill="#000"/>
<text x="468.30" y="136.30" font-size="6.6" text-anchor="start" fill="#333" textLength="14.800000000000011" lengthAdjust="spacingAndGlyphs" font-style="italic">CPNE5</text>
<rect x="478.30" y="137.70" width="3.30" height="2.40" fill="#2f6aa6"/>
<line x1="296.30" y1="145.70" x2="298.70" y2="145.70" stroke="#000" stroke-width="0.9"/>
<path d="M297.0 144.0 L294.8 145.7 L297.0 147.4Z" fill="#000"/>
<text x="300.20" y="147.90" font-size="6.6" text-anchor="start" fill="#333" textLength="21.0" lengthAdjust="spacingAndGlyphs" font-style="italic">C6orf222</text>
<rect x="300.20" y="149.70" width="10.40" height="2.20" fill="#2f6aa6"/>
<text x="354.50" y="147.90" font-size="6.6" text-anchor="start" fill="#333" textLength="17.69999999999999" lengthAdjust="spacingAndGlyphs" font-style="italic">KCTD20</text>
<line x1="374.70" y1="145.70" x2="377.00" y2="145.70" stroke="#000" stroke-width="0.9"/>
<path d="M376.3 144.0 L378.5 145.7 L376.3 147.4Z" fill="#000"/>
<line x1="355.00" y1="150.80" x2="376.60" y2="150.80" stroke="#2f6aa6" stroke-width="0.7"/>
<rect x="355.20" y="149.70" width="1.60" height="2.20" fill="#2f6aa6"/>
<rect x="359.20" y="149.70" width="1.60" height="2.20" fill="#2f6aa6"/>
<rect x="363.20" y="149.70" width="1.60" height="2.20" fill="#2f6aa6"/>
<rect x="367.20" y="149.70" width="1.60" height="2.20" fill="#2f6aa6"/>
<rect x="371.20" y="149.70" width="1.60" height="2.20" fill="#2f6aa6"/>
<rect x="375.20" y="149.70" width="1.60" height="2.20" fill="#2f6aa6"/>
<rect x="368.00" y="149.80" width="8.60" height="2.00" fill="#2f6aa6"/>
<line x1="415.00" y1="145.70" x2="417.70" y2="145.70" stroke="#000" stroke-width="0.9"/>
<path d="M415.7 144.0 L413.5 145.7 L415.7 147.4Z" fill="#000"/>
<text x="419.00" y="147.90" font-size="6.6" text-anchor="start" fill="#333" textLength="20.5" lengthAdjust="spacingAndGlyphs" font-style="italic">MIR3925</text>
<circle cx="425.4" cy="151.1" r="0.8" fill="#2f6aa6"/>
<text x="446.00" y="147.90" font-size="6.6" text-anchor="start" fill="#333" textLength="18.80000000000001" lengthAdjust="spacingAndGlyphs" font-style="italic">CDKN1A</text>
<line x1="467.70" y1="145.70" x2="470.70" y2="145.70" stroke="#000" stroke-width="0.9"/>
<path d="M470.0 144.0 L472.2 145.7 L470.0 147.4Z" fill="#000"/>
<line x1="448.50" y1="150.80" x2="460.40" y2="150.80" stroke="#2f6aa6" stroke-width="0.7"/>
<rect x="448.20" y="149.70" width="1.60" height="2.20" fill="#2f6aa6"/>
<rect x="451.20" y="149.70" width="1.60" height="2.20" fill="#2f6aa6"/>
<rect x="454.20" y="149.70" width="1.60" height="2.20" fill="#2f6aa6"/>
<rect x="457.20" y="149.70" width="1.60" height="2.20" fill="#2f6aa6"/>
<rect x="459.20" y="149.70" width="1.60" height="2.20" fill="#2f6aa6"/>
<line x1="446.20" y1="157.40" x2="448.90" y2="157.40" stroke="#000" stroke-width="0.9"/>
<path d="M446.9 155.7 L444.7 157.4 L446.9 159.1Z" fill="#000"/>
<text x="450.40" y="159.60" font-size="6.6" text-anchor="start" fill="#333" textLength="12.5" lengthAdjust="spacingAndGlyphs" font-style="italic">DINO</text>
<circle cx="456.6" cy="162.6" r="0.8" fill="#2f6aa6"/>
<text x="462.00" y="171.40" font-size="6.6" text-anchor="start" fill="#333" textLength="15.300000000000011" lengthAdjust="spacingAndGlyphs" font-style="italic">RAB44</text>
<line x1="478.70" y1="169.20" x2="481.60" y2="169.20" stroke="#000" stroke-width="0.9"/>
<path d="M480.9 167.5 L483.1 169.2 L480.9 170.9Z" fill="#000"/>
<rect x="463.90" y="173.50" width="16.30" height="2.20" fill="#2f6aa6"/>
<line x1="307.30" y1="179.70" x2="307.30" y2="182.30" stroke="#000" stroke-width="0.9"/>
<text x="307.30" y="192.20" font-size="8.8" text-anchor="middle" fill="#222" textLength="15.3" lengthAdjust="spacingAndGlyphs">36.3</text>
<line x1="348.90" y1="179.70" x2="348.90" y2="182.30" stroke="#000" stroke-width="0.9"/>
<text x="348.90" y="192.20" font-size="8.8" text-anchor="middle" fill="#222" textLength="15.3" lengthAdjust="spacingAndGlyphs">36.4</text>
<line x1="390.60" y1="179.70" x2="390.60" y2="182.30" stroke="#000" stroke-width="0.9"/>
<text x="390.60" y="192.20" font-size="8.8" text-anchor="middle" fill="#222" textLength="15.3" lengthAdjust="spacingAndGlyphs">36.5</text>
<line x1="432.30" y1="179.70" x2="432.30" y2="182.30" stroke="#000" stroke-width="0.9"/>
<text x="432.30" y="192.20" font-size="8.8" text-anchor="middle" fill="#222" textLength="15.3" lengthAdjust="spacingAndGlyphs">36.6</text>
<line x1="474.00" y1="179.70" x2="474.00" y2="182.30" stroke="#000" stroke-width="0.9"/>
<text x="474.00" y="192.20" font-size="8.8" text-anchor="middle" fill="#222" textLength="15.3" lengthAdjust="spacingAndGlyphs">36.7</text>
<text x="389.20" y="205.50" font-size="10.4" text-anchor="middle" fill="#222" textLength="72" lengthAdjust="spacingAndGlyphs">Position on chr6 (Mb)</text>
<line x1="45.80" y1="267.40" x2="45.80" y2="340.90" stroke="#000" stroke-width="1.3"/>
<line x1="42.80" y1="340.60" x2="194.00" y2="340.60" stroke="#000" stroke-width="1.2"/>
<line x1="43.00" y1="340.10" x2="45.80" y2="340.10" stroke="#000" stroke-width="1"/>
<text x="39.50" y="342.95" font-size="8" text-anchor="end" fill="#222" textLength="4.3" lengthAdjust="spacingAndGlyphs">0</text>
<line x1="43.00" y1="323.18" x2="45.80" y2="323.18" stroke="#000" stroke-width="1"/>
<text x="39.50" y="326.03" font-size="8" text-anchor="end" fill="#222" textLength="12.899999999999999" lengthAdjust="spacingAndGlyphs">500</text>
<line x1="43.00" y1="306.26" x2="45.80" y2="306.26" stroke="#000" stroke-width="1"/>
<text x="39.50" y="309.11" font-size="8" text-anchor="end" fill="#222" textLength="17.2" lengthAdjust="spacingAndGlyphs">1000</text>
<line x1="43.00" y1="289.34" x2="45.80" y2="289.34" stroke="#000" stroke-width="1"/>
<text x="39.50" y="292.19" font-size="8" text-anchor="end" fill="#222" textLength="17.2" lengthAdjust="spacingAndGlyphs">1500</text>
<line x1="43.00" y1="272.42" x2="45.80" y2="272.42" stroke="#000" stroke-width="1"/>
<text x="39.50" y="275.27" font-size="8" text-anchor="end" fill="#222" textLength="17.2" lengthAdjust="spacingAndGlyphs">2000</text>
<text transform="translate(16.9,303.7) rotate(-90)" font-size="10" text-anchor="middle" fill="#222" textLength="75" lengthAdjust="spacingAndGlyphs">Platelet count (10<tspan font-size="6" dy="-3">3</tspan><tspan dy="3">/µL)</tspan></text>
<rect x="52.20" y="311.20" width="10.80" height="28.80" fill="#85a8cc"/>
<rect x="70.20" y="317.90" width="10.80" height="22.10" fill="#e58a9c"/>
<rect x="87.80" y="290.00" width="10.80" height="50.00" fill="#ac92c6"/>
<rect x="105.60" y="311.20" width="10.80" height="28.80" fill="#98dca2"/>
<rect x="123.80" y="306.00" width="10.80" height="34.00" fill="#85a8cc"/>
<rect x="141.40" y="317.00" width="10.80" height="23.00" fill="#e58a9c"/>
<rect x="159.10" y="291.60" width="10.80" height="48.40" fill="#ac92c6"/>
<rect x="177.00" y="311.00" width="10.80" height="29.00" fill="#98dca2"/>
<circle cx="54.7" cy="301.0" r="1.35" fill="#18589a"/>
<circle cx="60.5" cy="301.0" r="1.35" fill="#18589a"/>
<circle cx="57.7" cy="304.5" r="1.35" fill="#18589a"/>
<circle cx="57.7" cy="307.5" r="1.35" fill="#18589a"/>
<circle cx="57.7" cy="311.0" r="1.35" fill="#18589a"/>
<circle cx="57.7" cy="318.0" r="1.35" fill="#18589a"/>
<circle cx="57.7" cy="327.7" r="1.35" fill="#18589a"/>
<line x1="57.60" y1="300.70" x2="57.60" y2="321.20" stroke="#222" stroke-width="0.9"/>
<line x1="55.00" y1="300.70" x2="60.20" y2="300.70" stroke="#222" stroke-width="0.9"/>
<line x1="55.00" y1="321.20" x2="60.20" y2="321.20" stroke="#222" stroke-width="0.9"/>
<line x1="57.60" y1="340.00" x2="57.60" y2="343.00" stroke="#000" stroke-width="0.9"/>
<circle cx="75.4" cy="305.0" r="1.35" fill="#d0102e"/>
<circle cx="72.5" cy="312.5" r="1.35" fill="#d0102e"/>
<circle cx="78.3" cy="312.5" r="1.35" fill="#d0102e"/>
<circle cx="75.4" cy="316.5" r="1.35" fill="#d0102e"/>
<circle cx="72.2" cy="323.0" r="1.35" fill="#d0102e"/>
<circle cx="78.3" cy="323.5" r="1.35" fill="#d0102e"/>
<circle cx="72.7" cy="327.0" r="1.35" fill="#d0102e"/>
<line x1="75.60" y1="309.10" x2="75.60" y2="324.60" stroke="#222" stroke-width="0.9"/>
<line x1="73.00" y1="309.10" x2="78.20" y2="309.10" stroke="#222" stroke-width="0.9"/>
<line x1="73.00" y1="324.60" x2="78.20" y2="324.60" stroke="#222" stroke-width="0.9"/>
<line x1="75.60" y1="340.00" x2="75.60" y2="343.00" stroke="#000" stroke-width="0.9"/>
<circle cx="90.5" cy="280.5" r="1.35" fill="#4a1c7c"/>
<circle cx="95.8" cy="280.5" r="1.35" fill="#4a1c7c"/>
<circle cx="93.2" cy="283.0" r="1.35" fill="#4a1c7c"/>
<circle cx="90.6" cy="286.0" r="1.35" fill="#4a1c7c"/>
<circle cx="95.8" cy="286.0" r="1.35" fill="#4a1c7c"/>
<circle cx="93.2" cy="295.0" r="1.35" fill="#4a1c7c"/>
<circle cx="90.6" cy="298.0" r="1.35" fill="#4a1c7c"/>
<circle cx="93.2" cy="301.0" r="1.35" fill="#4a1c7c"/>
<circle cx="93.2" cy="304.5" r="1.35" fill="#4a1c7c"/>
<line x1="93.20" y1="281.50" x2="93.20" y2="300.50" stroke="#222" stroke-width="0.9"/>
<line x1="90.60" y1="281.50" x2="95.80" y2="281.50" stroke="#222" stroke-width="0.9"/>
<line x1="90.60" y1="300.50" x2="95.80" y2="300.50" stroke="#222" stroke-width="0.9"/>
<line x1="93.20" y1="340.00" x2="93.20" y2="343.00" stroke="#000" stroke-width="0.9"/>
<circle cx="111.0" cy="299.0" r="1.35" fill="#22b33e"/>
<circle cx="108.0" cy="308.0" r="1.35" fill="#22b33e"/>
<circle cx="114.0" cy="308.0" r="1.35" fill="#22b33e"/>
<circle cx="108.5" cy="312.7" r="1.35" fill="#22b33e"/>
<circle cx="114.0" cy="312.7" r="1.35" fill="#22b33e"/>
<circle cx="111.0" cy="322.6" r="1.35" fill="#22b33e"/>
<line x1="111.00" y1="302.80" x2="111.00" y2="318.10" stroke="#222" stroke-width="0.9"/>
<line x1="108.40" y1="302.80" x2="113.60" y2="302.80" stroke="#222" stroke-width="0.9"/>
<line x1="108.40" y1="318.10" x2="113.60" y2="318.10" stroke="#222" stroke-width="0.9"/>
<line x1="111.00" y1="340.00" x2="111.00" y2="343.00" stroke="#000" stroke-width="0.9"/>
<circle cx="124.5" cy="295.5" r="1.35" fill="#18589a"/>
<circle cx="132.0" cy="296.0" r="1.35" fill="#18589a"/>
<circle cx="128.8" cy="297.0" r="1.35" fill="#18589a"/>
<circle cx="128.8" cy="307.0" r="1.35" fill="#18589a"/>
<circle cx="128.8" cy="330.5" r="1.35" fill="#18589a"/>
<line x1="129.20" y1="290.60" x2="129.20" y2="320.00" stroke="#222" stroke-width="0.9"/>
<line x1="126.60" y1="290.60" x2="131.80" y2="290.60" stroke="#222" stroke-width="0.9"/>
<line x1="126.60" y1="320.00" x2="131.80" y2="320.00" stroke="#222" stroke-width="0.9"/>
<line x1="129.20" y1="340.00" x2="129.20" y2="343.00" stroke="#000" stroke-width="0.9"/>
<circle cx="146.8" cy="304.5" r="1.35" fill="#d0102e"/>
<circle cx="143.5" cy="310.5" r="1.35" fill="#d0102e"/>
<circle cx="150.0" cy="310.5" r="1.35" fill="#d0102e"/>
<circle cx="146.8" cy="316.0" r="1.35" fill="#d0102e"/>
<circle cx="143.5" cy="322.5" r="1.35" fill="#d0102e"/>
<circle cx="150.0" cy="322.5" r="1.35" fill="#d0102e"/>
<circle cx="146.8" cy="325.5" r="1.35" fill="#d0102e"/>
<line x1="146.80" y1="308.40" x2="146.80" y2="324.40" stroke="#222" stroke-width="0.9"/>
<line x1="144.20" y1="308.40" x2="149.40" y2="308.40" stroke="#222" stroke-width="0.9"/>
<line x1="144.20" y1="324.40" x2="149.40" y2="324.40" stroke="#222" stroke-width="0.9"/>
<line x1="146.80" y1="340.00" x2="146.80" y2="343.00" stroke="#000" stroke-width="0.9"/>
<circle cx="161.5" cy="279.0" r="1.35" fill="#4a1c7c"/>
<circle cx="167.0" cy="279.0" r="1.35" fill="#4a1c7c"/>
<circle cx="164.5" cy="283.0" r="1.35" fill="#4a1c7c"/>
<circle cx="162.0" cy="287.5" r="1.35" fill="#4a1c7c"/>
<circle cx="167.0" cy="287.5" r="1.35" fill="#4a1c7c"/>
<circle cx="164.5" cy="291.5" r="1.35" fill="#4a1c7c"/>
<circle cx="162.0" cy="296.0" r="1.35" fill="#4a1c7c"/>
<circle cx="167.0" cy="296.0" r="1.35" fill="#4a1c7c"/>
<circle cx="164.5" cy="310.5" r="1.35" fill="#4a1c7c"/>
<line x1="164.50" y1="281.30" x2="164.50" y2="300.70" stroke="#222" stroke-width="0.9"/>
<line x1="161.90" y1="281.30" x2="167.10" y2="281.30" stroke="#222" stroke-width="0.9"/>
<line x1="161.90" y1="300.70" x2="167.10" y2="300.70" stroke="#222" stroke-width="0.9"/>
<line x1="164.50" y1="340.00" x2="164.50" y2="343.00" stroke="#000" stroke-width="0.9"/>
<circle cx="179.5" cy="305.5" r="1.35" fill="#22b33e"/>
<circle cx="185.5" cy="305.5" r="1.35" fill="#22b33e"/>
<circle cx="182.4" cy="309.0" r="1.35" fill="#22b33e"/>
<circle cx="179.5" cy="311.5" r="1.35" fill="#22b33e"/>
<circle cx="185.5" cy="311.5" r="1.35" fill="#22b33e"/>
<circle cx="180.0" cy="314.0" r="1.35" fill="#22b33e"/>
<circle cx="185.0" cy="314.0" r="1.35" fill="#22b33e"/>
<line x1="182.40" y1="306.00" x2="182.40" y2="315.30" stroke="#222" stroke-width="0.9"/>
<line x1="179.80" y1="306.00" x2="185.00" y2="306.00" stroke="#222" stroke-width="0.9"/>
<line x1="179.80" y1="315.30" x2="185.00" y2="315.30" stroke="#222" stroke-width="0.9"/>
<line x1="182.40" y1="340.00" x2="182.40" y2="343.00" stroke="#000" stroke-width="0.9"/>
<line x1="57.40" y1="253.50" x2="111.80" y2="253.50" stroke="#000" stroke-width="1.0"/>
<line x1="57.40" y1="251.50" x2="57.40" y2="255.50" stroke="#000" stroke-width="1.0"/>
<line x1="111.80" y1="251.50" x2="111.80" y2="255.50" stroke="#000" stroke-width="1.0"/>
<text x="84.60" y="250.50" font-size="7.2" text-anchor="middle" fill="#333">ns</text>
<line x1="57.40" y1="263.40" x2="93.50" y2="263.40" stroke="#000" stroke-width="1.0"/>
<line x1="57.40" y1="261.40" x2="57.40" y2="265.40" stroke="#000" stroke-width="1.0"/>
<line x1="93.50" y1="261.40" x2="93.50" y2="265.40" stroke="#000" stroke-width="1.0"/>
<text x="75.45" y="264.30" font-size="9" text-anchor="middle" fill="#222">***</text>
<line x1="57.40" y1="273.40" x2="76.20" y2="273.40" stroke="#000" stroke-width="1.0"/>
<line x1="57.40" y1="271.40" x2="57.40" y2="275.40" stroke="#000" stroke-width="1.0"/>
<line x1="76.20" y1="271.40" x2="76.20" y2="275.40" stroke="#000" stroke-width="1.0"/>
<text x="66.80" y="274.30" font-size="9" text-anchor="middle" fill="#222">***</text>
<line x1="93.50" y1="273.40" x2="111.80" y2="273.40" stroke="#000" stroke-width="1.0"/>
<line x1="93.50" y1="271.40" x2="93.50" y2="275.40" stroke="#000" stroke-width="1.0"/>
<line x1="111.80" y1="271.40" x2="111.80" y2="275.40" stroke="#000" stroke-width="1.0"/>
<text x="102.65" y="274.30" font-size="9" text-anchor="middle" fill="#222">***</text>
<line x1="128.80" y1="253.50" x2="183.20" y2="253.50" stroke="#000" stroke-width="1.0"/>
<line x1="128.80" y1="251.50" x2="128.80" y2="255.50" stroke="#000" stroke-width="1.0"/>
<line x1="183.20" y1="251.50" x2="183.20" y2="255.50" stroke="#000" stroke-width="1.0"/>
<text x="156.00" y="250.50" font-size="7.2" text-anchor="middle" fill="#333">ns</text>
<line x1="128.80" y1="263.40" x2="164.90" y2="263.40" stroke="#000" stroke-width="1.0"/>
<line x1="128.80" y1="261.40" x2="128.80" y2="265.40" stroke="#000" stroke-width="1.0"/>
<line x1="164.90" y1="261.40" x2="164.90" y2="265.40" stroke="#000" stroke-width="1.0"/>
<text x="146.85" y="264.30" font-size="9" text-anchor="middle" fill="#222">***</text>
<line x1="128.80" y1="273.40" x2="147.60" y2="273.40" stroke="#000" stroke-width="1.0"/>
<line x1="128.80" y1="271.40" x2="128.80" y2="275.40" stroke="#000" stroke-width="1.0"/>
<line x1="147.60" y1="271.40" x2="147.60" y2="275.40" stroke="#000" stroke-width="1.0"/>
<text x="138.20" y="274.30" font-size="9" text-anchor="middle" fill="#222">***</text>
<line x1="164.90" y1="273.40" x2="183.20" y2="273.40" stroke="#000" stroke-width="1.0"/>
<line x1="164.90" y1="271.40" x2="164.90" y2="275.40" stroke="#000" stroke-width="1.0"/>
<line x1="183.20" y1="271.40" x2="183.20" y2="275.40" stroke="#000" stroke-width="1.0"/>
<text x="174.05" y="274.30" font-size="9" text-anchor="middle" fill="#222">***</text>
<line x1="120.10" y1="253.00" x2="120.10" y2="353.50" stroke="#333" stroke-width="0.9" stroke-dasharray="0.9 0.9"/>
<line x1="120.10" y1="368.50" x2="120.10" y2="394.60" stroke="#333" stroke-width="0.9" stroke-dasharray="0.9 0.9"/>
<rect x="37.6" y="0" width="0" height="0"/>
<text transform="translate(62.2,351.2) rotate(-43.5)" font-size="9.8" text-anchor="end" fill="#222" textLength="39" lengthAdjust="spacingAndGlyphs">WT control</text>
<rect x="55.6" y="0" width="0" height="0"/>
<text transform="translate(80.2,351.2) rotate(-43.5)" font-size="9.8" text-anchor="end" fill="#222" textLength="24" lengthAdjust="spacingAndGlyphs"><tspan font-style="italic">Crlf3</tspan><tspan font-size="5.5" dy="-2.8">−/−</tspan></text>
<rect x="73.2" y="0" width="0" height="0"/>
<text transform="translate(97.8,351.2) rotate(-43.5)" font-size="9.8" text-anchor="end" fill="#222" textLength="53" lengthAdjust="spacingAndGlyphs">JAK2V617F ET</text>
<rect x="91.0" y="0" width="0" height="0"/>
<text transform="translate(115.6,351.2) rotate(-43.5)" font-size="9.8" text-anchor="end" fill="#222" textLength="64" lengthAdjust="spacingAndGlyphs"><tspan font-style="italic">Crlf3</tspan><tspan font-size="5.5" dy="-2.8">−/−</tspan><tspan dy="2.8"> JAK2V617F</tspan></text>
<rect x="109.2" y="0" width="0" height="0"/>
<text transform="translate(133.8,351.2) rotate(-43.5)" font-size="9.8" text-anchor="end" fill="#222" textLength="39" lengthAdjust="spacingAndGlyphs">WT control</text>
<rect x="126.8" y="0" width="0" height="0"/>
<text transform="translate(151.4,351.2) rotate(-43.5)" font-size="9.8" text-anchor="end" fill="#222" textLength="24" lengthAdjust="spacingAndGlyphs"><tspan font-style="italic">Crlf3</tspan><tspan font-size="5.5" dy="-2.8">−/−</tspan></text>
<rect x="144.5" y="0" width="0" height="0"/>
<text transform="translate(169.1,351.2) rotate(-43.5)" font-size="9.8" text-anchor="end" fill="#222" textLength="53" lengthAdjust="spacingAndGlyphs">JAK2V617F ET</text>
<rect x="162.4" y="0" width="0" height="0"/>
<text transform="translate(187.0,351.2) rotate(-43.5)" font-size="9.8" text-anchor="end" fill="#222" textLength="64" lengthAdjust="spacingAndGlyphs"><tspan font-style="italic">Crlf3</tspan><tspan font-size="5.5" dy="-2.8">−/−</tspan><tspan dy="2.8"> JAK2V617F</tspan></text>
<text x="83.10" y="409.70" font-size="10.4" text-anchor="middle" fill="#222" textLength="36.8" lengthAdjust="spacingAndGlyphs">≤20 weeks</text>
<text x="157.40" y="409.70" font-size="10.4" text-anchor="middle" fill="#222" textLength="36.8" lengthAdjust="spacingAndGlyphs">≥48 weeks</text>
<defs><filter id="t1" x="0" y="0" width="100%" height="100%" color-interpolation-filters="sRGB"><feTurbulence type="fractalNoise" baseFrequency="0.45" numOctaves="2" seed="3" result="a"/><feColorMatrix in="a" type="matrix" values="1 0 0 0 0  1 0 0 0 0  1 0 0 0 0  0 0 0 0 1" result="f"/><feTurbulence type="fractalNoise" baseFrequency="0.08" numOctaves="2" seed="53" result="b"/><feColorMatrix in="b" type="matrix" values="1 0 0 0 0  1 0 0 0 0  1 0 0 0 0  0 0 0 0 1" result="c"/><feComposite in="f" in2="c" operator="arithmetic" k1="0" k2="1.5" k3="0.9" k4="-0.7"/><feComponentTransfer result="base"><feFuncR type="table" tableValues="0.30 0.38 0.45 0.52 0.61 0.76"/><feFuncG type="table" tableValues="0.31 0.39 0.46 0.53 0.64 0.82"/><feFuncB type="table" tableValues="0.27 0.34 0.41 0.48 0.62 0.85"/><feFuncA type="linear" slope="0" intercept="1"/></feComponentTransfer><feTurbulence type="turbulence" baseFrequency="0.14" numOctaves="2" seed="5" result="t"/><feColorMatrix in="t" type="matrix" values="0 0 0 0 0.8  0 0 0 0 0.89  0 0 0 0 0.95  -4.2 0 0 0 0.95" result="net0"/><feGaussianBlur in="net0" stdDeviation="0.45" result="net"/><feComposite in="net" in2="base" operator="over"/></filter><filter id="t2" x="0" y="0" width="100%" height="100%" color-interpolation-filters="sRGB"><feTurbulence type="fractalNoise" baseFrequency="0.4" numOctaves="2" seed="11" result="a"/><feColorMatrix in="a" type="matrix" values="1 0 0 0 0  1 0 0 0 0  1 0 0 0 0  0 0 0 0 1" result="f"/><feTurbulence type="fractalNoise" baseFrequency="0.08" numOctaves="2" seed="61" result="b"/><feColorMatrix in="b" type="matrix" values="1 0 0 0 0  1 0 0 0 0  1 0 0 0 0  0 0 0 0 1" result="c"/><feComposite in="f" in2="c" operator="arithmetic" k1="0" k2="1.4" k3="0.7" k4="-0.5499999999999998"/><feComponentTransfer result="base"><feFuncR type="table" tableValues="0.40 0.46 0.52 0.57 0.64 0.76"/><feFuncG type="table" tableValues="0.34 0.42 0.52 0.59 0.68 0.81"/><feFuncB type="table" tableValues="0.26 0.38 0.53 0.62 0.72 0.86"/><feFuncA type="linear" slope="0" intercept="1"/></feComponentTransfer><feTurbulence type="turbulence" baseFrequency="0.18" numOctaves="2" seed="7" result="t"/><feColorMatrix in="t" type="matrix" values="0 0 0 0 0.8  0 0 0 0 0.88  0 0 0 0 0.94  -5 0 0 0 0.5" result="net0"/><feGaussianBlur in="net0" stdDeviation="0.45" result="net"/><feComposite in="net" in2="base" operator="over"/></filter><filter id="t3" x="0" y="0" width="100%" height="100%" color-interpolation-filters="sRGB"><feTurbulence type="fractalNoise" baseFrequency="0.32" numOctaves="2" seed="21" result="a"/><feColorMatrix in="a" type="matrix" values="1 0 0 0 0  1 0 0 0 0  1 0 0 0 0  0 0 0 0 1" result="f"/><feTurbulence type="fractalNoise" baseFrequency="0.08" numOctaves="2" seed="71" result="b"/><feColorMatrix in="b" type="matrix" values="1 0 0 0 0  1 0 0 0 0  1 0 0 0 0  0 0 0 0 1" result="c"/><feComposite in="f" in2="c" operator="arithmetic" k1="0" k2="1.2" k3="0.9" k4="-0.55"/><feComponentTransfer result="base"><feFuncR type="table" tableValues="0.40 0.46 0.51 0.55 0.61 0.72"/><feFuncG type="table" tableValues="0.37 0.43 0.48 0.53 0.60 0.74"/><feFuncB type="table" tableValues="0.29 0.36 0.42 0.48 0.58 0.76"/><feFuncA type="linear" slope="0" intercept="1"/></feComponentTransfer><feTurbulence type="turbulence" baseFrequency="0.15" numOctaves="2" seed="9" result="t"/><feColorMatrix in="t" type="matrix" values="0 0 0 0 0.8  0 0 0 0 0.86  0 0 0 0 0.92  -5 0 0 0 0.4" result="net0"/><feGaussianBlur in="net0" stdDeviation="0.45" result="net"/><feComposite in="net" in2="base" operator="over"/></filter><filter id="t4" x="0" y="0" width="100%" height="100%" color-interpolation-filters="sRGB"><feTurbulence type="fractalNoise" baseFrequency="0.45" numOctaves="2" seed="31" result="a"/><feColorMatrix in="a" type="matrix" values="1 0 0 0 0  1 0 0 0 0  1 0 0 0 0  0 0 0 0 1" result="f"/><feTurbulence type="fractalNoise" baseFrequency="0.08" numOctaves="2" seed="81" result="b"/><feColorMatrix in="b" type="matrix" values="1 0 0 0 0  1 0 0 0 0  1 0 0 0 0  0 0 0 0 1" result="c"/><feComposite in="f" in2="c" operator="arithmetic" k1="0" k2="1.4" k3="0.9" k4="-0.6499999999999999"/><feComponentTransfer result="base"><feFuncR type="table" tableValues="0.36 0.43 0.50 0.55 0.62 0.75"/><feFuncG type="table" tableValues="0.37 0.44 0.51 0.56 0.64 0.79"/><feFuncB type="table" tableValues="0.33 0.40 0.46 0.52 0.62 0.80"/><feFuncA type="linear" slope="0" intercept="1"/></feComponentTransfer><feTurbulence type="turbulence" baseFrequency="0.12" numOctaves="2" seed="13" result="t"/><feColorMatrix in="t" type="matrix" values="0 0 0 0 0.8  0 0 0 0 0.89  0 0 0 0 0.95  -4.5 0 0 0 0.7" result="net0"/><feGaussianBlur in="net0" stdDeviation="0.45" result="net"/><feComposite in="net" in2="base" operator="over"/></filter><filter id="bl" x="-20%" y="-20%" width="140%" height="140%"><feGaussianBlur stdDeviation="0.8"/></filter><clipPath id="cbr"><rect x="386" y="315.8" width="127" height="95.2"/></clipPath><clipPath id="ctl"><rect x="256" y="217.2" width="127" height="95.5"/></clipPath></defs>
<rect x="256" y="217.2" width="127" height="95.5" fill="#888" filter="url(#t1)"/>
<rect x="386" y="217.2" width="127" height="95.5" fill="#888" filter="url(#t2)"/>
<rect x="256" y="315.8" width="127" height="95.2" fill="#888" filter="url(#t3)"/>
<rect x="386" y="315.8" width="127" height="95.2" fill="#888" filter="url(#t4)"/>
<circle cx="288" cy="300.7" r="5.3" fill="#f2f6f8" filter="url(#bl)"/>
<ellipse cx="362.3" cy="272.3" rx="3.8" ry="8.8" transform="rotate(15 362.3 272.3)" fill="#dde8ec" filter="url(#bl)"/>
<ellipse cx="362.3" cy="272.3" rx="2.4" ry="7.2" transform="rotate(15 362.3 272.3)" fill="#2a1a10"/>
<defs><linearGradient id="gbr" x1="0" y1="0" x2="1" y2="0"><stop offset="0" stop-color="#dfeaee" stop-opacity="0.2"/><stop offset="0.35" stop-color="#dfeaee" stop-opacity="0"/></linearGradient></defs>
<rect x="386" y="315.8" width="127" height="95.2" fill="url(#gbr)"/>
<g clip-path="url(#cbr)" filter="url(#bl)" fill="#c6dbe6" stroke="#c6dbe6" stroke-linecap="round" stroke-linejoin="round" opacity="0.75"><path d="M386 366 L391 361 L397 368 L403 377 L400 383 L397 391 L394 400 L391 411 L388 411 L390 398 L392 388 L391 378 L386 373Z" stroke-width="1"/><path d="M399 316 Q408 326 416 334 L423 338" fill="none" stroke-width="2.6"/><path d="M395 346 Q400 352 404 357" fill="none" stroke-width="2.4"/><path d="M422 362 Q418 369 413 375" fill="none" stroke-width="2"/><path d="M402 378 Q410 376 416 372" fill="none" stroke-width="1.6"/><path d="M386 336 Q390 340 388 346" fill="none" stroke-width="2"/><path d="M455 392 Q465 385 472 376" fill="none" stroke-width="1.4"/></g>
<defs><linearGradient id="gtl" x1="0" y1="0" x2="1" y2="0"><stop offset="0" stop-color="#dfeaee" stop-opacity="0.22"/><stop offset="0.45" stop-color="#dfeaee" stop-opacity="0.05"/><stop offset="0.6" stop-color="#40402c" stop-opacity="0.0"/><stop offset="1" stop-color="#40402c" stop-opacity="0.16"/></linearGradient></defs>
<rect x="256" y="217.2" width="127" height="95.5" fill="url(#gtl)"/>
<g clip-path="url(#ctl)" filter="url(#bl)" fill="none" stroke="#c8dde6" stroke-linecap="round" opacity="0.7"><path d="M342 250 Q346 262 348 275 Q350 290 351 300" stroke-width="2"/><path d="M330 254 Q337 256 344 259" stroke-width="1.5"/><path d="M262 230 Q270 240 280 236 Q290 232 300 240" stroke-width="1.6"/><path d="M258 262 Q266 268 276 262" stroke-width="1.5"/></g>
<ellipse cx="288.6" cy="320.5" rx="4.3" ry="5" fill="#e8f0f6" filter="url(#bl)"/>
<ellipse cx="265.9" cy="371.4" rx="2.8" ry="3.8" fill="#e4edf3" filter="url(#bl)"/>
<circle cx="281.2" cy="328.3" r="1.8" fill="#dfe8ef" filter="url(#bl)"/>
<circle cx="260.9" cy="352.3" r="2.3" fill="#dfe8ef" filter="url(#bl)"/>
<circle cx="257.4" cy="387.4" r="2" fill="#dfe8ef" filter="url(#bl)"/>
<circle cx="353" cy="387" r="1.8" fill="#dfe8ef" filter="url(#bl)"/>
<rect x="336.00" y="222.60" width="39.20" height="7.70" fill="#000"/>
<text x="338.7" y="229.1" font-size="6.6" font-weight="bold" fill="#fff" textLength="33.6" lengthAdjust="spacingAndGlyphs">WT control</text>
<rect x="483.90" y="221.90" width="23.20" height="7.60" fill="#000"/>
<text x="484.5" y="228.8" font-size="6.8" font-weight="bold" fill="#fff" textLength="14.6" lengthAdjust="spacingAndGlyphs">Crlf3</text><text x="499.6" y="226.6" font-size="4.6" font-weight="bold" fill="#fff" textLength="6.8" lengthAdjust="spacingAndGlyphs">−/−</text>
<rect x="321.60" y="320.20" width="54.20" height="7.50" fill="#000"/>
<text x="325.4" y="326.6" font-size="6.4" font-weight="bold" fill="#fff" textLength="47.4" lengthAdjust="spacingAndGlyphs">JAK2V617F ET</text>
<rect x="439.10" y="321.00" width="66.90" height="7.50" fill="#000"/>
<text x="442" y="327.5" font-size="6.4" font-weight="bold" fill="#fff" textLength="15.3" lengthAdjust="spacingAndGlyphs">Crlf3</text><text x="457.6" y="325.2" font-size="4.4" font-weight="bold" fill="#fff" textLength="7.4" lengthAdjust="spacingAndGlyphs">−/−</text><text x="467.6" y="327.5" font-size="6.4" font-weight="bold" fill="#fff" textLength="35.3" lengthAdjust="spacingAndGlyphs">JAK2V617F</text>
<text x="7.00" y="14.40" font-size="11.4" text-anchor="start" fill="#000" font-weight="bold">A</text>
<text x="7.10" y="225.90" font-size="11.4" text-anchor="start" fill="#000" font-weight="bold">B</text>
<text x="219.60" y="225.90" font-size="11.4" text-anchor="start" fill="#000" font-weight="bold">C</text>
<rect x="0.50" y="0.50" width="519.00" height="417.00" fill="none" stroke="#000" stroke-width="1.05"/>
</svg></body></html>
